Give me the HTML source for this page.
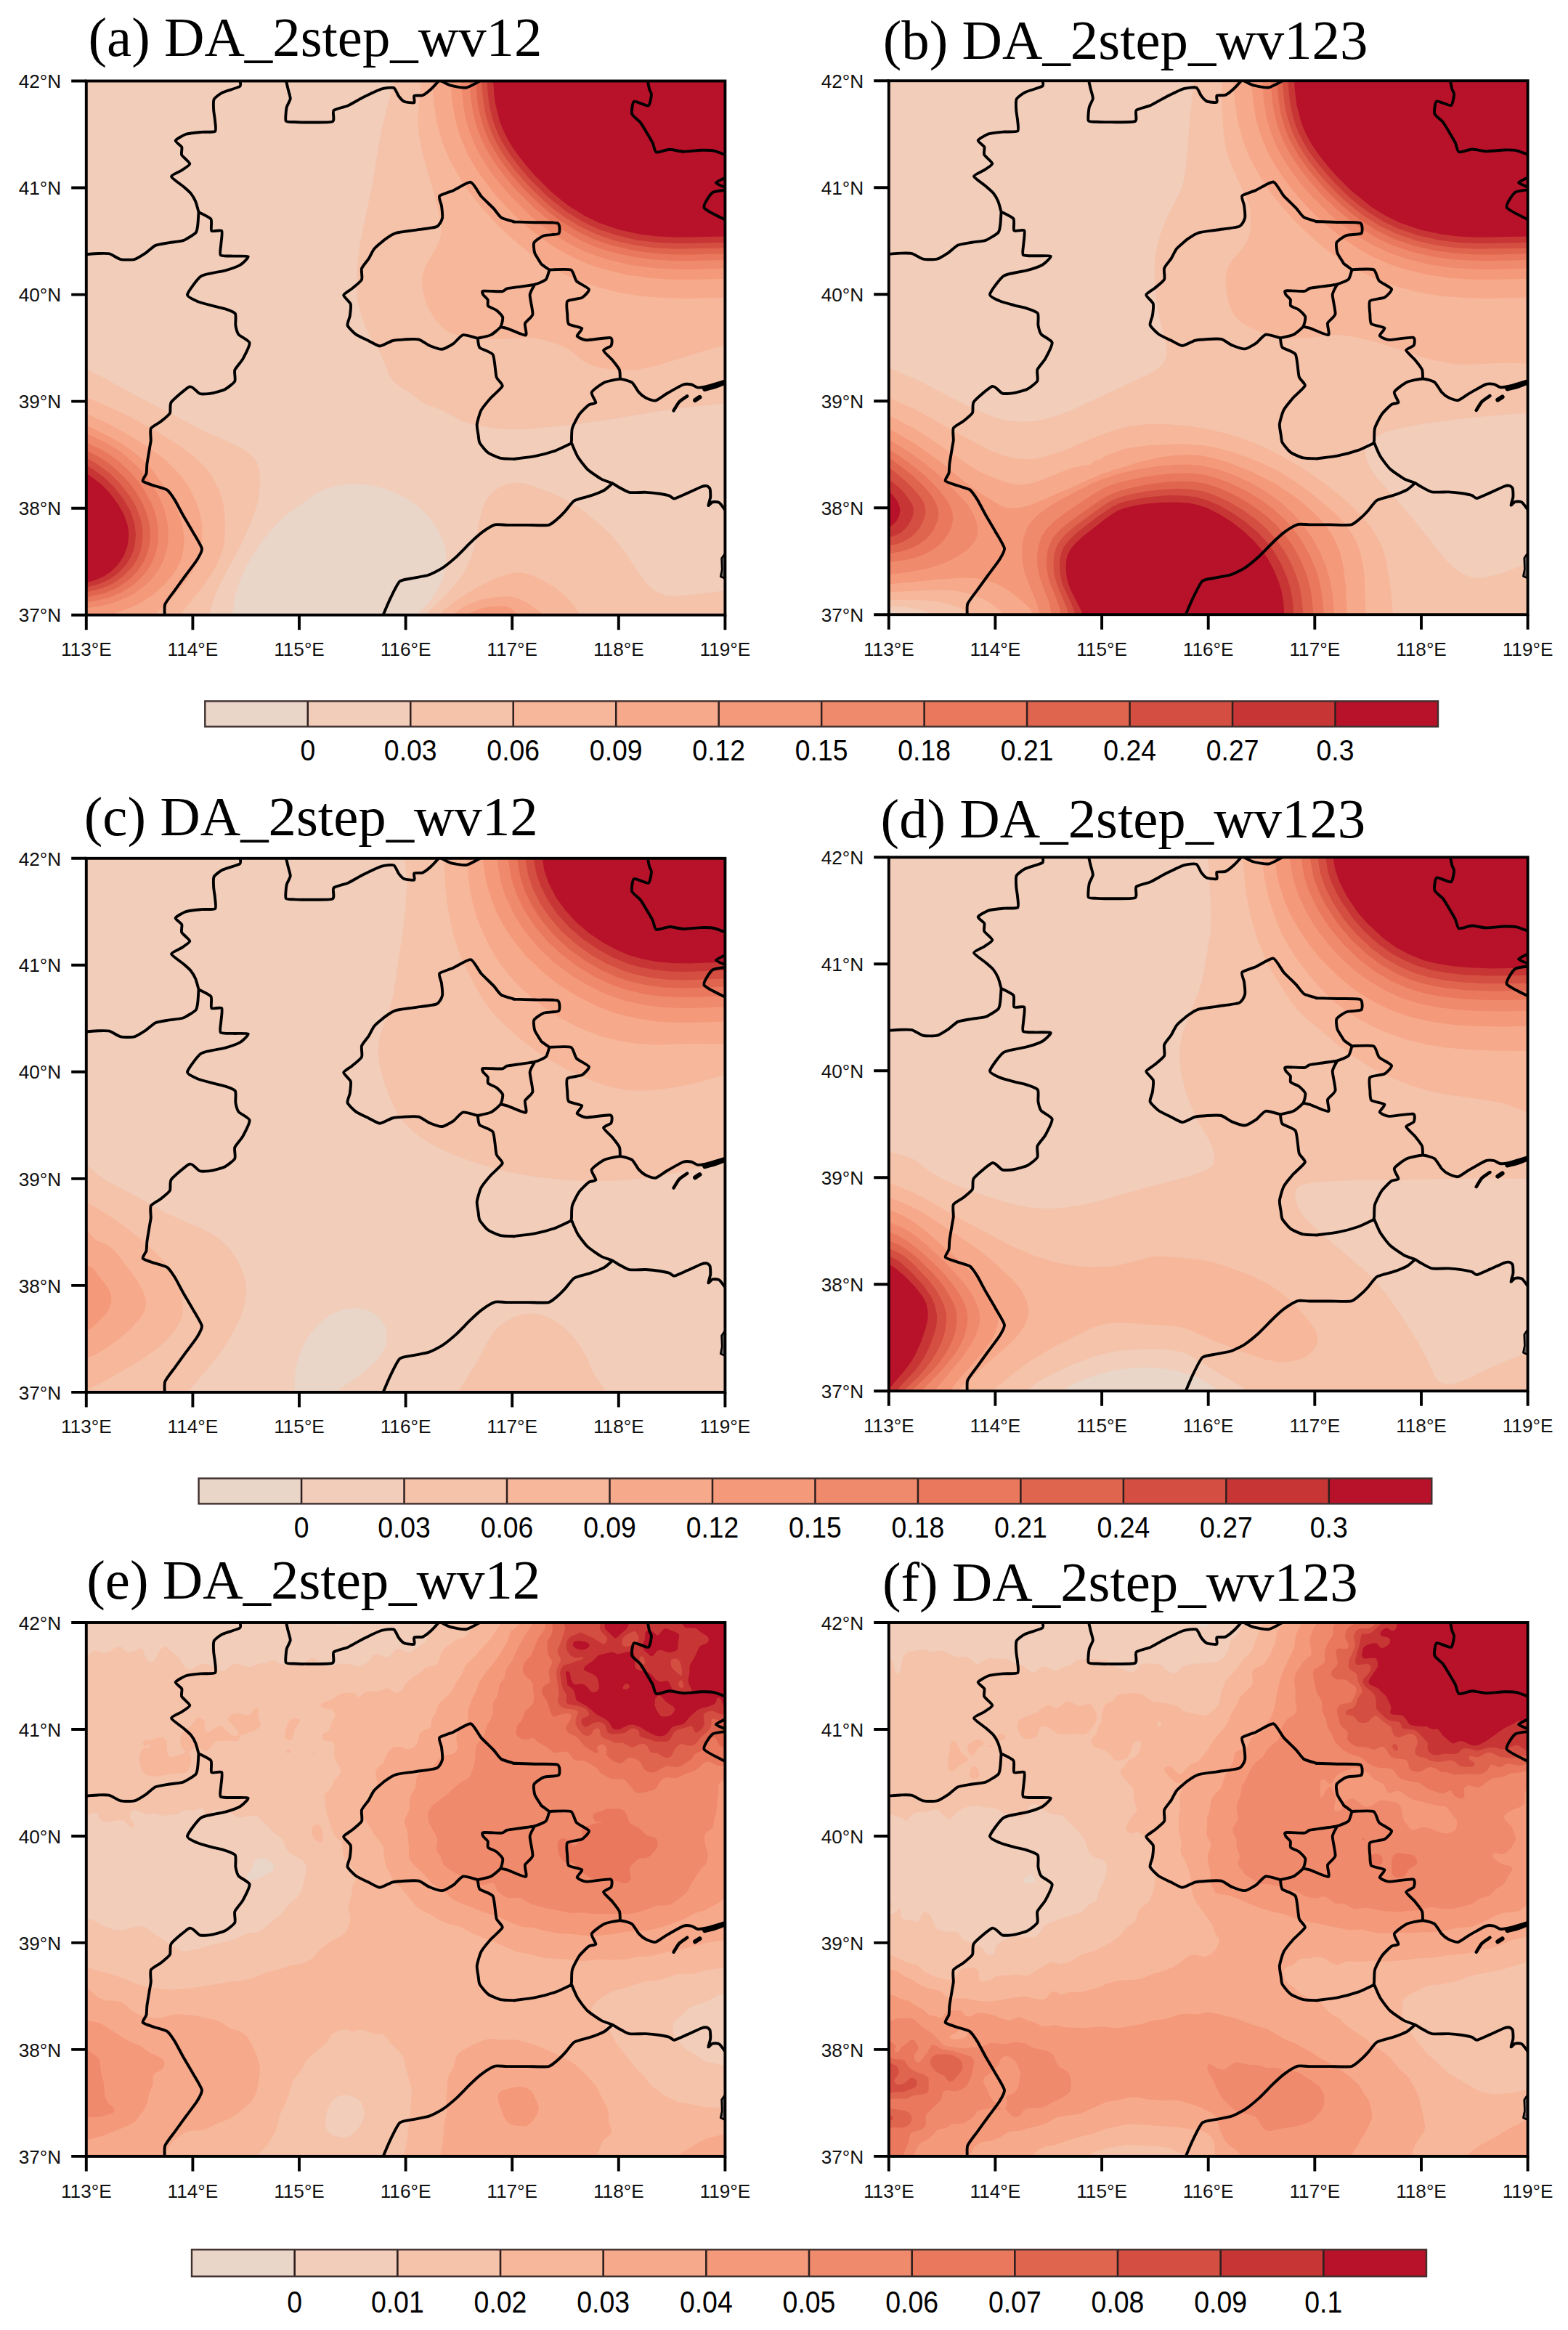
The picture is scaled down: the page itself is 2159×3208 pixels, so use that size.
<!DOCTYPE html>
<html><head><meta charset="utf-8"><title>figure</title>
<style>
html,body{margin:0;padding:0;background:#fff;}
svg{display:block;}
.t{font-family:"Liberation Serif",serif;font-size:76.8px;fill:#000;}
.k{font-family:"Liberation Sans",sans-serif;font-size:26.2px;fill:#111;}
.c{font-family:"Liberation Sans",sans-serif;fill:#000;text-anchor:middle;}
</style></head><body>
<svg width="2159" height="3208" viewBox="0 0 2159 3208">
<defs><g id="bd" fill="none" stroke="#000" stroke-linejoin="round" stroke-linecap="round"><path stroke-width="3.9" d="M211.5 -1.5C211.5 -0.6 213.9 5.8 211.5 7.5C209.1 9.2 191.5 14.0 187.9 15.8C184.3 17.6 177.1 22.8 175.9 25.3C174.7 27.8 175.3 37.6 175.5 40.6C175.7 43.6 177.2 52.1 177.4 55C177.6 57.9 179.3 67.8 177.4 69.3C175.5 70.8 162.3 69.9 158.3 70.3C154.3 70.7 140.7 72.0 137.2 73.2C133.7 74.4 123.5 80.3 122.9 82.1C122.3 83.9 130.6 88.9 131.5 90.9C132.4 92.9 130.4 99.6 131.5 101.9C132.6 104.2 142.6 111.8 142.6 113.9C142.6 116.0 134.0 121.1 131.5 122.9C129.0 124.7 117.0 129.3 117.2 131.5C117.4 133.7 130.7 142.6 133.4 144.9C136.1 147.2 142.2 152.4 143.9 154.5C145.6 156.6 149.5 163.3 150.6 165.9C151.7 168.5 154.4 178.9 154.8 180.3 M154.8 180.3C154.7 182.1 153.9 195.6 153.5 198.5C153.1 201.4 152.6 206.9 150.6 209C148.6 211.1 137.0 218.2 133.4 219.5C129.8 220.8 118.1 221.7 114.3 222.4C110.5 223.1 98.5 224.8 95.2 226.2C92.0 227.6 84.7 234.8 81.8 236.7C78.9 238.6 70.0 244.4 66.5 245.3C63.0 246.2 50.8 246.1 47.3 245.3C43.8 244.5 35.1 238.5 32 237.7C28.9 236.9 20.1 237.2 16.7 237.3C13.3 237.4 -0.5 238.5 -2.4 238.6 M154.8 180.3C156.5 181.3 169.9 187.3 171.7 189.9C173.5 192.5 171.1 204.5 172.6 206.1C174.1 207.7 185.3 204.2 186.6 206.1C187.9 208.0 185.7 222.0 185.5 225.3C185.3 228.7 183.4 238.0 185.1 239.6C186.8 241.2 198.5 240.7 202.3 240.9C206.1 241.1 222.0 240.3 223 241.5C224.0 242.7 215.1 251.2 211.9 253.1C208.7 255.0 196.2 259.3 190.8 260.8C185.4 262.3 163.5 265.1 158.3 268.4C153.1 271.7 139.8 290.4 139.2 293.9C138.6 297.3 149.3 301.4 152.6 302.9C155.8 304.4 167.9 307.6 171.7 308.6C175.5 309.7 187.5 312.2 190.8 313.4C194.2 314.5 203.7 317.8 205.2 320.1C206.7 322.4 205.2 333.4 205.7 336.3C206.2 339.2 208.0 346.4 209.9 348.8C211.8 351.2 224.3 356.9 224.9 360.2C225.5 363.5 217.7 378.5 215.7 382.2C213.7 385.9 205.7 394.5 204.6 397.6C203.5 400.7 206.0 410.2 204.6 412.9C203.2 415.6 194.1 422.6 190.8 424.3C187.5 426.0 175.1 429.1 171.7 429.7C168.3 430.3 159.3 431.0 156.4 430.1C153.5 429.2 146.5 419.4 142.6 420.5C138.7 421.6 119.9 438.0 117.2 441.6C114.5 445.2 116.6 454.2 115.2 456.9C113.8 459.6 105.4 466.2 102.8 468.3C100.2 470.4 90.4 475.3 89 477.9C87.6 480.5 89.2 491.9 89 494.5C88.8 497.1 88.0 500.4 87.5 503.6C87.0 506.8 84.2 523.0 83.7 526.6C83.2 530.2 83.3 537.6 82.7 540C82.1 542.4 76.7 548.8 77.9 550.5C79.2 552.2 91.9 556.0 95.2 557.2C98.5 558.4 108.7 560.7 111.4 562.6C114.1 564.5 119.7 572.8 121.9 576.3C124.1 579.8 130.9 593.0 133.4 597.4C135.9 601.8 144.2 615.7 146.8 620.3C149.4 624.9 158.6 639.5 159.2 643.3C159.8 647.1 154.8 655.0 152.6 658.6C150.4 662.2 140.3 675.4 137.2 679.6C134.1 683.8 124.8 696.7 121.9 700.7C119.0 704.7 109.9 716.0 108.5 719.8C107.1 723.6 108.2 737.0 108.2 738.9 M275 -1.5C275.3 -0.2 277.3 8.4 277.9 11C278.5 13.6 281.3 21.8 281.1 24.4C280.9 27.0 276.5 33.7 275.9 36.8C275.3 39.9 273.9 53.0 275 55C276.1 57.0 284.1 56.3 286.5 56.5C288.9 56.7 294.3 57.0 299.5 56.9C304.7 56.8 334.8 57.5 338.9 55.9C343.0 54.3 338.7 42.8 340.8 40.6C342.9 38.4 356.2 35.7 360.3 33.9C364.4 32.1 376.7 24.8 381.3 22.5C385.9 20.2 402.0 12.3 406.2 11C410.4 9.7 421.0 8.5 423.4 9.4C425.8 10.3 428.7 18.6 430.1 20.5C431.5 22.4 435.6 27.3 437.8 28.2C440.0 29.1 450.3 30.5 451.7 29.7C453.1 28.9 450.5 21.5 451.7 20.5C452.9 19.5 461.3 20.6 463.6 19.6C465.9 18.7 472.8 13.1 475.1 11C477.4 8.9 485.5 -0.2 486.6 -1.5 M486.6 -1.5C488.1 -0.7 498.2 5.1 501.9 6.2C505.6 7.3 519.6 9.9 523.9 9.1C528.2 8.3 542.8 -0.4 544.9 -1.5 M539.2 353.9C537.2 353.4 522.5 348.6 519.1 349.3C515.8 350.0 508.6 359.2 505.7 361.2C502.8 363.2 493.6 368.6 490.4 368.9C487.1 369.2 476.4 365.4 473.2 364.1C469.9 362.8 461.3 356.4 457.9 355.5C454.4 354.6 442.3 355.3 438.7 355.5C435.1 355.7 424.9 356.5 421.5 357.4C418.1 358.3 407.6 364.6 404.3 364.6C401.1 364.6 392.2 359.0 389 357.4C385.8 355.8 374.7 350.9 371.8 348.8C368.9 346.7 360.8 338.9 359.9 336.3C359.0 333.7 362.8 325.9 363.2 322.9C363.6 319.9 365.0 309.5 364.1 306.7C363.2 303.9 354.3 296.7 354.5 294.6C354.7 292.5 363.5 287.7 366 285.6C368.5 283.5 378.1 276.0 379.4 273.2C380.7 270.4 378.4 260.8 379.4 257.9C380.4 255.0 387.3 247.2 389 244.5C390.7 241.8 394.3 233.7 396.6 231C398.9 228.3 408.8 219.8 411.9 217.6C415.0 215.4 423.2 210.2 427.2 209C431.2 207.8 446.6 206.1 452.1 205.2C457.7 204.3 478.9 202.0 482.7 200.4C486.5 198.8 489.7 191.8 490.4 188.9C491.1 186.0 489.8 174.8 489.4 171.7C489.0 168.6 485.0 160.4 486.6 158.3C488.2 156.2 501.4 152.5 505.7 150.6C510.0 148.7 525.8 138.4 529.6 139.2C533.4 140.0 540.7 154.7 543.9 158.3C547.1 161.9 558.4 172.5 561.2 175.5C564.0 178.5 568.9 186.1 571.7 187.9C574.5 189.7 587.8 193.1 589.5 193.7C591.2 194.3 586.3 193.6 589.1 193.7C591.9 193.8 611.8 194.4 617.8 194.6C623.8 194.8 646.0 194.1 649.3 195.6C652.6 197.1 652.6 208.2 650.7 209.9C648.8 211.6 633.6 211.6 630.2 212.8C626.8 214.1 618.0 220.0 616.8 222.4C615.6 224.8 616.9 234.0 617.8 236.7C618.7 239.4 624.4 247.9 625.4 249.5C626.4 251.1 626.0 251.2 627.3 252.2C628.5 253.2 636.8 259.0 637.9 259.8 M637.9 259.8C637.4 261.1 635.1 271.2 633.1 273.2C631.1 275.2 621.2 278.9 617.8 279.9C614.3 280.9 602.4 282.2 598.6 282.8C594.8 283.4 582.1 284.9 579.5 285.6C576.9 286.3 575.9 289.2 572.6 289.5C569.3 289.8 549.4 288.4 546.8 288.9C544.2 289.4 546.2 293.0 546.8 294.2C547.4 295.4 552.4 299.4 553.1 300.9C553.8 302.4 552.3 308.1 553.5 309.5C554.7 310.9 563.0 313.8 565 315.3C567.0 316.8 573.0 322.6 573.6 324.9C574.2 327.2 572.3 335.8 570.7 338.2C569.1 340.6 560.4 347.7 557.3 349.3C554.1 350.9 541.0 353.4 539.2 353.9 M617.8 279.9C617.1 281.3 611.4 290.1 611.1 294.2C610.8 298.3 615.6 317.1 614.9 321C614.2 324.9 605.4 330.6 604.4 333.5C603.4 336.4 607.8 349.0 605.3 349.7C602.8 350.4 583.0 341.3 579.5 340.2C576.0 339.1 571.6 338.4 570.7 338.2 M637.9 259.8C640.9 259.8 663.8 258.3 667.5 259.8C671.2 261.3 672.7 272.4 675.2 275.1C677.7 277.8 691.6 284.3 692.4 286.6C693.2 288.9 685.8 296.5 682.8 298.1C679.8 299.7 664.7 300.6 662.7 302.9C660.7 305.2 662.5 317.9 662.7 321C662.9 324.1 662.6 332.5 664.6 334.4C666.6 336.3 681.6 338.6 682.8 340.2C683.9 341.8 675.5 349.1 676.1 350.7C676.7 352.3 683.9 356.1 688.5 356.4C693.1 356.6 718.5 352.4 722 353.2C725.5 354.0 724.0 362.3 723 364.1C722.0 365.9 712.3 368.8 712.5 370.8C712.7 372.8 722.7 381.5 724.9 384.2C727.1 386.9 733.5 395.0 734.5 397.6C735.5 400.2 735.3 408.8 735.4 410 M539.2 353.9C539.5 355.2 539.9 364.6 542 366.9C544.1 369.2 557.9 372.5 560.2 376.5C562.5 380.5 563.7 402.8 565 407.1C566.3 411.4 574.0 416.7 573.2 419.6C572.4 422.5 560.2 432.5 557.3 435.8C554.4 439.1 545.8 449.4 543.9 453C542.0 456.6 538.6 468.8 538.2 472.2C537.8 475.6 539.7 484.9 540.1 487.5C540.5 490.1 540.7 495.5 542 497.9C543.3 500.3 550.6 509.2 553.5 511.3C556.4 513.4 567.1 518.0 570.7 518.9C574.3 519.8 587.7 519.8 589.5 519.9C591.3 520.0 586.3 520.3 589.1 519.9C591.9 519.5 612.1 517.2 617.8 516.1C623.5 515.0 641.4 510.2 646.5 508.4C651.6 506.6 666.3 499.3 668.5 498.3 M885.6 410.9C882.4 411.9 857.5 419.4 853.1 420.5C848.7 421.6 843.5 421.8 841.6 421.5C839.7 421.2 835.8 418.0 833.9 417.6C832.0 417.2 825.9 416.4 822.5 417.6C819.1 418.9 803.3 427.9 799.5 430.1C795.7 432.3 787.1 439.0 784.2 439.6C781.3 440.2 773.1 436.9 770.8 435.8C768.5 434.7 763.1 430.3 761.2 428.2C759.3 426.1 754.3 416.6 751.7 414.8C749.1 413.0 739.2 410.0 735.4 410C731.6 410.0 717.3 413.0 713.4 414.8C709.5 416.6 697.4 425.4 696.2 428.2C695.1 431.0 702.3 440.8 701.9 442.5C701.5 444.2 694.7 443.8 692.4 445.4C690.1 447.0 681.3 455.6 679 458.8C676.7 462.1 670.4 474.3 669.4 477.9C668.4 481.5 668.6 492.5 668.5 494.5C668.4 496.5 667.6 495.6 668.5 497.9C669.4 500.1 674.9 513.4 677.1 517C679.3 520.6 687.2 531.1 690.5 534.2C693.8 537.3 706.2 545.7 709.6 547.6C713.0 549.5 722.6 552.3 724.9 553.4C727.2 554.5 730.3 557.0 732.6 558.2C734.9 559.4 744.1 565.0 747.9 565.8C751.7 566.6 766.6 565.6 770.8 565.8C775.0 566.0 786.6 567.2 789.9 567.7C793.1 568.2 801.3 569.9 803.3 570.6C805.3 571.3 807.5 574.8 810 574.4C812.5 574.0 824.5 568.4 828.2 566.8C831.9 565.2 844.6 559.2 847.3 558.2C850.0 557.2 853.8 556.9 855 557.2C856.2 557.5 858.7 559.5 859.2 561C859.7 562.5 860.0 570.2 859.8 572.5C859.6 574.8 856.6 583.3 856.9 584C857.2 584.7 861.1 579.6 862.6 579.2C864.1 578.8 870.1 578.6 872.2 580.2C874.3 581.8 882.6 594.0 883.7 595.5 M724.9 553.4C723.8 554.4 716.5 561.2 713.4 562.9C710.3 564.6 698.4 569.2 694.3 570.6C690.2 572.0 675.7 575.2 672.3 577.3C668.9 579.4 662.1 589.2 659.9 591.6C657.7 594.0 652.6 599.3 650.3 601.2C648.0 603.1 641.1 609.8 636.9 610.8C632.7 611.8 613.9 610.8 608.2 610.8C602.5 610.8 584.0 610.8 579.5 610.8C575.0 610.8 566.5 609.4 563.1 610.4C559.7 611.4 549.4 617.8 545.9 620.3C542.4 622.8 532.2 632.1 528.6 635.6C525.0 639.1 513.3 651.3 509.5 654.8C505.7 658.2 494.2 667.6 490.4 670.1C486.6 672.6 475.0 678.3 471.2 679.6C467.4 680.9 456.0 682.6 452.1 683.5C448.2 684.4 435.2 685.5 432 688.2C428.8 690.9 422.1 705.2 419.6 710.3C417.1 715.4 408.4 736.0 407.2 738.9 M773.1 -1.5C773.4 -0.2 775.1 9.0 775.6 11C776.1 13.0 778.6 16.3 778.5 18.6C778.4 20.9 776.7 32.9 774.3 33.9C771.9 34.9 756.9 27.1 754.6 28.2C752.3 29.3 750.8 42.5 751.7 45.4C752.6 48.3 761.1 54.2 763.2 56.9C765.3 59.6 771.0 69.3 772.7 72.2C774.4 75.1 779.1 83.0 780.4 85.6C781.6 88.2 782.9 97.1 785.2 98C787.5 98.9 799.6 94.3 803.3 94.2C807.0 94.1 818.1 97.0 822.5 97.1C826.9 97.2 843.1 95.3 847.3 95.2C851.5 95.1 861.0 95.3 864.6 96.1C868.2 96.9 881.8 102.1 883.7 102.8 M883.7 131.5C882.1 132.4 867.4 138.5 867.4 140.1C867.4 141.7 882.1 147.0 883.7 147.8 M883.7 149.7C881.6 150.1 865.9 151.0 862.6 153.5C859.4 156.0 849.1 170.7 851.2 174.6C853.3 178.5 880.5 190.9 883.7 192.7"/><path stroke-width="7" d="M852.1 423.4C853.5 423.0 863.3 420.7 866.5 419.6C869.7 418.6 882.0 413.6 883.7 412.9"/><path stroke-width="4.5" d="M809.1 453.4C809.9 452.2 814.8 443.6 816.7 441.6C818.6 439.6 826.7 434.3 827.8 433.5"/><path stroke-width="6" d="M838.7 439.1 L845 434.9"/><path stroke-width="2.5" fill="#6b625e" d="M883.7 644.2 L875.1 656.7 L875.7 672 L873.7 681.6 L883.7 686.3Z"/></g>
<clipPath id="cpa"><rect x="0" y="0" width="879.6" height="735.2"/></clipPath>
<clipPath id="cpb"><rect x="0" y="0" width="879.8" height="735.0"/></clipPath>
<clipPath id="cpc"><rect x="0" y="0" width="879.6" height="735.1"/></clipPath>
<clipPath id="cpd"><rect x="0" y="0" width="879.8" height="734.9"/></clipPath>
<clipPath id="cpe"><rect x="0" y="0" width="879.6" height="734.9"/></clipPath>
<clipPath id="cpf"><rect x="0" y="0" width="879.8" height="734.9"/></clipPath>
</defs>
<rect width="2159" height="3208" fill="#fff"/>
<g transform="translate(118.8 111.5)">
<g clip-path="url(#cpa)">
<rect width="879.6" height="735.2" fill="#f1cdba"/>
<rect width="879.6" height="735.2" fill="#ead5c9"/>
<path fill="#f1cdba" fill-rule="evenodd" d="M-24.0,-24.0 904.0,-24.0 904.0,760.0 443.4,760.0 458.8,732.1 461.8,728.1 469.8,720.1 479.2,708.1 485.1,698.2 489.6,688.2 493.9,674.2 495.8,660.3 495.1,646.3 491.9,634.3 484.4,618.4 472.9,602.1 461.0,589.6 445.0,577.2 429.0,568.2 409.1,560.5 391.1,556.4 371.1,554.7 357.2,555.5 343.2,557.8 327.2,562.6 317.3,567.0 275.4,597.6 263.4,608.7 251.4,622.0 239.4,637.6 227.5,656.0 217.4,674.2 211.3,688.2 207.3,700.2 203.9,714.1 198.9,760.0 -24.0,760.0Z"/>
<path fill="#f5c2aa" fill-rule="evenodd" d="M424.3,-24.0 904.0,-24.0 904.0,441.2 836.1,448.2 804.2,452.3 708.4,467.9 664.5,473.8 608.6,479.2 590.7,479.8 576.7,479.4 558.7,477.5 541.6,474.7 528.8,471.9 518.8,468.6 510.8,464.8 492.9,454.8 464.9,443.5 457.0,438.3 443.0,427.4 429.0,419.0 425.0,415.7 421.0,410.9 417.0,404.4 404.9,375.0 389.4,349.0 383.8,337.1 378.3,321.1 374.0,305.2 372.6,295.2 372.1,281.2 373.6,249.3 376.6,225.4 395.1,135.9 401.9,91.7 406.5,67.8 425.5,-8.0 426.0,-14.0ZM-24.0,385.0 -24.0,383.1 -22.0,383.8 -14.0,389.0 21.9,407.5 67.5,432.8 159.6,480.4 211.5,504.3 219.5,509.3 226.1,514.6 231.7,520.6 235.5,526.6 238.4,536.6 239.0,554.5 237.6,572.5 233.8,588.4 226.2,608.4 212.2,640.3 189.5,682.2 180.0,702.1 171.3,726.1 167.7,746.0 161.6,760.0 -24.0,760.0ZM581.9,554.5 594.7,553.2 602.6,553.8 629.0,562.5 643.6,568.5 658.5,575.8 673.5,584.4 685.4,592.4 707.1,610.4 724.4,627.3 742.3,649.6 762.3,680.1 769.8,690.2 778.3,698.9 788.2,705.1 800.2,708.8 812.2,709.6 874.1,702.4 904.0,699.9 904.0,760.0 458.3,760.0 464.6,740.1 467.7,734.1 488.5,714.1 505.7,696.2 516.5,682.2 523.7,670.2 529.1,658.3 533.2,646.3 536.2,634.3 539.7,612.4 543.4,596.4 547.2,584.4 551.1,576.5 557.2,568.5 564.2,562.5 571.2,558.5Z"/>
<path fill="#f7b79b" fill-rule="evenodd" d="M460.5,-24.0 904.0,-24.0 904.0,356.5 856.1,370.0 784.3,392.3 758.3,397.5 738.4,398.5 712.4,395.8 696.4,391.8 684.5,385.5 668.5,372.4 660.5,367.5 645.4,361.0 628.6,356.0 618.6,354.0 608.6,353.0 566.7,355.5 550.8,355.3 536.8,354.2 518.8,351.6 506.9,348.7 498.9,345.5 490.9,340.0 480.8,329.1 471.1,313.1 465.8,299.2 462.8,283.2 462.6,271.2 464.5,261.3 468.9,251.4 481.1,231.3 485.1,223.4 487.6,215.4 488.6,205.4 487.7,193.4 484.7,177.5 478.5,153.5 464.5,105.7 460.5,87.7 457.9,71.8 457.0,59.8 457.2,45.8 461.9,-6.0 461.7,-16.0ZM-24.0,424.9 -24.0,424.3 -22.0,424.9 -10.8,430.8 33.9,450.1 61.8,463.2 97.7,483.0 125.7,500.4 147.6,516.6 162.5,530.6 168.9,538.6 174.2,546.5 183.2,564.5 188.6,582.5 190.9,602.4 190.5,632.3 189.1,640.3 186.1,650.3 179.4,666.2 169.6,682.9 157.6,699.5 133.0,730.1 113.1,760.0 -24.0,760.0ZM583.9,678.2 590.7,677.0 598.7,676.8 610.6,679.4 628.6,687.4 646.6,698.6 660.3,710.1 671.3,722.1 678.4,732.1 686.5,748.0 694.8,758.0 695.8,760.0 473.7,760.0 479.8,744.0 483.4,738.1 492.9,728.1 506.9,717.2 524.8,705.2 546.8,693.1 568.7,683.1Z"/>
<path fill="#f7a98b" fill-rule="evenodd" d="M476.2,-24.0 904.0,-24.0 904.0,297.5 832.2,299.5 802.2,299.1 766.3,296.5 734.4,291.4 700.4,282.7 686.5,278.0 668.5,270.8 654.5,264.2 638.6,255.5 624.6,246.7 610.6,236.9 594.7,224.3 578.7,210.3 562.7,194.5 547.2,177.5 534.0,161.5 522.2,145.6 511.8,129.6 502.9,113.6 496.9,100.9 490.9,85.7 485.9,69.8 481.7,51.8 478.9,33.2 477.0,11.9ZM-24.0,448.8 -24.0,447.2 -22.0,447.7 25.9,469.8 43.9,479.1 59.8,488.2 81.8,502.0 97.0,512.6 109.8,522.6 125.7,538.6 135.3,550.5 142.2,560.5 151.0,578.5 155.1,590.4 157.6,600.4 159.5,612.4 159.9,624.3 159.3,634.3 157.1,648.3 154.3,658.3 151.0,666.2 144.5,678.2 137.7,688.2 119.7,709.6 85.8,743.9 75.8,749.0 44.4,758.0 40.6,760.0 14.0,760.0 10.5,758.0 3.9,756.0 -8.0,753.5 -14.0,753.5 -24.0,755.1ZM569.8,710.1 580.7,709.4 590.7,711.0 598.8,714.1 609.4,720.1 623.8,730.1 633.2,738.1 643.4,750.0 648.8,758.0 649.5,760.0 488.8,760.0 491.8,750.0 497.0,742.0 505.0,734.1 518.8,724.6 528.8,719.4 542.8,714.2 554.8,711.8Z"/>
<path fill="#f49a7b" fill-rule="evenodd" d="M501.2,-24.0 904.0,-24.0 904.0,271.7 836.1,273.6 808.2,273.4 776.3,271.5 742.3,266.5 710.4,258.6 696.4,254.1 680.5,247.8 654.5,234.7 640.6,226.1 626.6,216.3 610.6,203.8 596.7,191.5 580.7,175.8 567.5,161.5 555.9,147.6 543.9,131.6 533.4,115.6 525.6,101.7 515.2,77.7 510.7,63.8 506.9,47.8 504.3,31.9 501.8,5.9ZM-24.0,464.8 -24.0,463.7 -22.0,464.2 -16.0,466.8 19.9,483.5 35.9,491.8 49.8,500.1 61.8,508.2 79.4,522.6 86.9,530.6 96.2,542.6 117.6,574.5 122.8,584.4 126.9,594.4 130.9,606.4 133.6,618.4 134.6,628.3 134.5,638.3 133.3,648.3 131.4,656.3 127.7,665.4 123.7,672.7 117.3,682.2 109.7,691.2 93.7,706.0 75.8,717.9 61.8,724.8 39.9,732.9 23.9,739.9 19.9,740.0 7.9,737.5 -2.0,736.5 -12.0,736.9 -24.0,739.1ZM554.8,724.1 574.7,723.0 580.7,724.0 584.7,726.0 588.7,729.2 593.1,734.1 602.6,748.7 609.9,758.0 610.7,760.0 507.9,760.0 509.6,756.0 519.0,742.0 526.7,734.1 533.4,730.1 540.8,726.9Z"/>
<path fill="#f08a6c" fill-rule="evenodd" d="M515.7,-24.0 904.0,-24.0 904.0,257.4 832.2,259.4 812.2,259.3 780.3,257.5 748.3,253.2 716.4,245.5 688.5,235.7 672.5,228.2 660.5,221.7 638.6,207.3 620.6,193.5 608.6,183.1 582.7,157.1 560.0,129.6 550.3,115.6 539.7,97.7 533.9,85.7 528.3,71.8 523.9,57.8 520.7,43.8 518.3,27.9 516.7,9.9ZM-24.0,478.7 -24.0,477.8 -22.0,478.2 -2.0,485.1 12.2,490.7 27.9,498.5 41.4,506.6 52.4,514.6 70.3,530.6 77.8,538.8 88.3,552.5 97.1,566.5 103.1,578.5 107.0,588.4 110.4,600.4 112.5,612.4 113.2,624.3 112.5,636.3 110.6,646.3 107.7,656.3 103.4,666.2 98.8,674.2 91.8,683.6 83.5,692.2 75.8,698.8 65.8,705.7 55.8,711.3 35.9,719.1 19.9,723.1 -24.0,728.7ZM553.7,740.1 564.7,739.7 572.7,742.4 576.7,745.4 580.6,750.0 585.2,758.0 585.7,760.0 531.6,760.0 535.4,752.0 540.6,746.0 546.8,742.1Z"/>
<path fill="#e9785d" fill-rule="evenodd" d="M527.4,-24.0 904.0,-24.0 904.0,245.9 836.1,247.6 808.2,247.5 778.3,245.6 754.3,242.4 726.4,236.2 710.4,231.4 696.4,226.4 682.5,220.2 670.5,214.0 646.6,198.7 630.6,186.6 616.6,174.6 591.6,149.6 579.5,135.6 568.7,121.6 559.1,107.7 549.7,91.7 543.9,79.7 539.3,67.8 535.0,53.8 532.2,41.8 529.6,23.9 528.1,5.9ZM-24.0,490.7 -24.0,489.9 -22.0,490.2 -0.1,497.8 19.9,507.1 33.9,515.7 43.9,523.1 60.5,538.6 69.3,548.5 78.1,560.5 89.3,580.5 93.3,590.4 96.7,602.4 98.5,612.4 99.2,624.3 98.7,634.3 97.0,644.3 94.0,654.3 89.7,664.2 85.0,672.2 78.9,680.2 71.8,687.5 64.1,694.2 47.8,704.5 29.9,711.8 9.9,716.4 -24.0,721.1Z"/>
<path fill="#e0654f" fill-rule="evenodd" d="M536.2,-24.0 904.0,-24.0 904.0,237.2 834.2,239.0 810.2,238.9 780.3,237.1 754.3,233.6 724.4,226.6 698.4,217.7 674.5,206.2 652.5,192.3 638.6,181.9 624.6,170.1 611.3,157.5 598.7,144.4 585.9,129.6 575.1,115.6 566.9,103.7 558.5,89.7 552.5,77.7 548.5,67.8 544.0,53.8 541.1,41.8 538.8,27.9 537.1,9.9ZM-24.0,500.7 -22.0,500.5 -4.0,507.0 15.9,516.8 25.9,523.0 36.2,530.6 53.2,546.5 61.6,556.5 68.8,566.5 78.9,584.4 82.9,594.4 85.8,604.4 87.6,614.4 88.1,624.3 87.8,632.3 86.2,642.3 83.4,652.3 80.1,660.3 71.0,674.2 63.8,682.0 56.9,688.2 41.9,698.2 25.9,705.0 5.9,709.8 -24.0,714.0Z"/>
<path fill="#d44e41" fill-rule="evenodd" d="M543.8,-24.0 904.0,-24.0 904.0,229.7 812.2,231.3 782.3,229.7 756.3,226.2 728.4,219.9 702.4,211.1 678.5,199.7 656.5,185.9 642.7,175.5 630.6,165.3 618.0,153.5 604.6,139.6 592.4,125.6 581.6,111.7 573.3,99.7 565.0,85.7 559.1,73.8 554.8,62.8 550.8,49.8 548.1,37.8 544.6,7.9ZM-24.0,510.6 -24.0,510.1 -22.0,510.4 -8.0,515.5 3.9,521.1 13.9,526.8 31.9,539.8 45.8,553.4 59.3,570.5 64.3,578.5 69.8,589.0 75.8,606.4 77.2,614.4 77.9,624.3 76.3,640.3 74.3,648.3 71.2,656.3 66.7,664.2 62.4,670.2 49.8,682.9 36.2,692.2 21.9,698.5 3.9,703.1 -24.0,707.2Z"/>
<path fill="#c73635" fill-rule="evenodd" d="M551.5,-24.0 904.0,-24.0 904.0,222.1 814.2,223.8 784.3,222.2 758.3,218.9 730.4,212.6 704.4,203.8 682.5,193.2 660.7,179.5 634.6,158.8 610.6,134.9 598.7,121.2 586.7,105.8 578.7,94.1 571.5,81.7 566.5,71.8 561.8,59.8 558.1,47.8 555.4,35.8 553.6,23.9 552.0,5.9ZM-24.0,520.6 -24.0,519.4 -22.0,519.7 -14.0,522.4 -2.0,528.1 9.3,534.6 25.5,546.5 39.5,560.5 51.8,576.5 60.9,592.4 66.4,608.4 68.3,624.3 66.7,640.3 62.0,654.3 54.6,666.2 43.1,678.2 31.9,686.2 17.9,692.6 -3.9,698.2 -24.0,700.9Z"/>
<path fill="#b8122a" fill-rule="evenodd" d="M560.2,-24.0 904.0,-24.0 904.0,213.7 814.2,215.3 784.3,213.7 762.3,211.0 734.4,205.0 706.4,195.6 686.5,185.8 666.7,173.5 655.9,165.5 638.6,151.1 616.6,129.0 605.0,115.6 594.7,102.3 585.9,89.7 578.8,77.7 574.0,67.8 569.4,55.8 563.8,33.9 562.0,21.9 560.5,3.9 559.8,-12.0ZM-24.0,530.6 -24.0,529.4 -22.0,529.7 -14.2,532.6 3.9,542.6 19.8,554.5 31.9,566.8 43.7,582.5 51.8,596.8 56.6,610.4 58.0,618.4 58.4,626.3 56.8,640.3 51.8,653.8 43.9,665.7 33.9,675.6 23.9,682.3 9.9,688.1 -8.0,692.6 -24.0,694.4Z"/>
<use href="#bd" transform="scale(0.99955 1.00095)"/>
</g>
<rect x="0" y="0" width="879.6" height="735.2" fill="none" stroke="#000" stroke-width="3.9"/>
<path d="M0.0 735.2 V755.8000000000001 M146.6 735.2 V755.8000000000001 M293.2 735.2 V755.8000000000001 M439.8 735.2 V755.8000000000001 M586.4 735.2 V755.8000000000001 M733.0 735.2 V755.8000000000001 M879.6 735.2 V755.8000000000001 M0 0.0 H-20.6 M0 147.0 H-20.6 M0 294.1 H-20.6 M0 441.1 H-20.6 M0 588.2 H-20.6 M0 735.2 H-20.6" stroke="#000" stroke-width="3.9" fill="none"/>
<text class="k" x="0.0" y="791.8" text-anchor="middle">113°E</text>
<text class="k" x="146.6" y="791.8" text-anchor="middle">114°E</text>
<text class="k" x="293.2" y="791.8" text-anchor="middle">115°E</text>
<text class="k" x="439.8" y="791.8" text-anchor="middle">116°E</text>
<text class="k" x="586.4" y="791.8" text-anchor="middle">117°E</text>
<text class="k" x="733.0" y="791.8" text-anchor="middle">118°E</text>
<text class="k" x="879.6" y="791.8" text-anchor="middle">119°E</text>
<text class="k" x="-34.6" y="9.7" text-anchor="end">42°N</text>
<text class="k" x="-34.6" y="156.7" text-anchor="end">41°N</text>
<text class="k" x="-34.6" y="303.8" text-anchor="end">40°N</text>
<text class="k" x="-34.6" y="450.8" text-anchor="end">39°N</text>
<text class="k" x="-34.6" y="597.9" text-anchor="end">38°N</text>
<text class="k" x="-34.6" y="744.9" text-anchor="end">37°N</text>
</g>
<text class="t" x="121.5" y="76.8">(a) DA_2step_wv12</text>
<g transform="translate(1223.8 111.2)">
<g clip-path="url(#cpb)">
<rect width="879.8" height="735.0" fill="#f1cdba"/>
<rect width="879.8" height="735.0" fill="#ead5c9"/>
<path fill="#f1cdba" fill-rule="evenodd" d="M-24.0,-24.0 904.0,-24.0 904.0,756.0 35.6,756.0 35.0,754.0 24.4,740.0 20.1,736.1 16.8,734.1 10.2,732.1 -2.0,730.1 -24.0,729.1Z"/>
<path fill="#f5c2aa" fill-rule="evenodd" d="M419.3,-24.0 904.0,-24.0 904.0,455.4 826.2,461.5 784.3,465.8 734.4,472.6 704.4,478.3 684.5,483.6 669.2,490.7 663.5,494.7 659.5,498.7 656.9,502.6 655.5,508.6 657.2,518.6 659.9,526.6 665.1,536.6 672.0,546.5 721.2,602.4 766.3,659.1 777.6,670.2 788.2,677.7 797.9,682.2 806.1,684.2 814.2,684.6 824.2,683.4 846.1,677.5 882.0,663.7 904.0,656.5 904.0,756.0 78.4,756.0 77.7,754.0 72.1,746.0 65.0,738.0 59.6,734.1 49.8,729.8 41.9,727.8 19.9,724.4 -24.0,722.5 -24.0,385.1 39.9,412.2 105.7,446.4 125.7,455.4 145.6,463.3 155.6,466.4 169.6,468.8 183.6,469.5 199.5,468.7 215.5,465.9 232.8,460.8 253.4,452.8 360.4,402.9 372.7,394.9 379.4,386.9 382.4,379.0 382.9,369.0 381.1,359.2 373.1,329.1 368.5,303.2 365.6,271.2 366.3,247.3 369.5,227.4 375.2,207.4 384.4,185.5 400.9,153.5 404.5,143.6 406.9,133.6 409.7,113.6 414.6,49.8 421.2,-8.0 421.2,-14.0Z"/>
<path fill="#f7b79b" fill-rule="evenodd" d="M457.6,-24.0 904.0,-24.0 904.0,390.5 852.1,388.4 796.2,390.5 784.3,390.3 772.3,389.1 743.1,383.0 670.5,359.5 650.5,354.5 634.6,351.5 622.6,350.1 610.6,349.9 578.7,353.7 558.7,354.9 546.8,354.5 534.8,352.8 520.8,349.2 504.6,343.1 492.5,337.1 482.9,330.2 478.0,325.1 473.7,319.1 470.7,313.1 467.8,305.2 464.4,287.2 463.8,277.2 464.2,269.2 466.4,259.3 470.2,251.3 474.9,244.7 488.3,229.4 494.9,217.7 498.5,205.4 498.9,189.5 497.5,177.5 494.8,167.5 472.5,117.6 466.7,101.7 463.6,89.7 461.3,73.7 459.8,55.8 458.7,23.9 458.7,-14.0ZM-24.0,426.8 -24.0,426.1 -22.0,426.6 37.9,453.3 89.8,482.9 137.7,508.4 157.6,516.1 175.6,520.2 185.5,521.1 195.5,521.0 205.5,519.7 215.5,517.5 243.4,508.3 281.3,491.8 313.3,480.0 333.2,475.2 357.2,472.8 381.1,472.8 407.1,474.9 421.0,476.6 445.0,481.0 463.0,485.3 482.9,491.3 500.9,497.9 518.8,505.6 542.8,517.7 560.7,528.0 582.7,542.1 604.6,557.9 624.6,574.2 638.0,586.4 653.6,602.4 664.8,616.4 672.3,628.3 678.3,640.3 682.0,650.3 685.0,662.2 690.9,698.1 694.0,732.1 695.3,756.0 128.9,756.0 127.1,752.0 120.0,742.0 114.4,736.1 109.7,732.2 97.7,725.5 81.8,720.1 61.8,716.4 41.9,714.7 -24.0,714.8Z"/>
<path fill="#f7a98b" fill-rule="evenodd" d="M474.2,-24.0 904.0,-24.0 904.0,297.7 830.2,299.8 800.2,299.4 764.3,296.7 732.4,291.7 700.4,283.6 684.5,278.3 668.5,271.9 652.5,264.4 638.6,256.8 624.6,248.2 608.6,237.0 590.7,222.8 575.6,209.4 560.7,194.7 544.8,177.3 532.8,162.7 520.8,146.5 510.8,131.3 500.9,113.6 494.9,101.0 488.9,85.9 484.9,73.4 480.5,55.8 476.9,32.7 475.0,11.9ZM-24.0,450.8 -24.0,449.2 -22.0,449.7 9.9,465.5 37.9,480.5 55.8,492.0 112.1,530.6 123.7,537.5 133.7,542.2 157.6,551.6 173.6,555.8 183.6,556.1 197.5,553.7 211.5,549.3 237.4,538.6 253.4,532.9 261.4,531.4 269.4,528.8 273.4,529.2 277.4,528.6 283.3,523.4 291.3,521.1 297.9,516.6 315.3,509.7 329.2,505.8 359.2,501.9 403.1,500.1 419.0,500.7 437.0,502.6 451.0,505.3 472.9,511.0 510.8,525.1 532.8,535.5 552.8,547.3 564.7,555.2 585.0,570.5 606.6,588.5 618.6,599.6 628.2,610.4 638.2,624.3 643.6,634.3 647.5,644.3 650.7,656.3 654.1,674.2 655.3,690.2 657.3,756.0 171.2,756.0 170.9,752.0 169.5,748.0 163.6,742.1 153.7,730.1 146.9,724.1 138.2,718.1 127.7,712.6 116.5,708.1 105.7,704.8 91.8,702.2 73.8,701.1 45.8,701.9 -24.0,705.6Z"/>
<path fill="#f49a7b" fill-rule="evenodd" d="M499.1,-24.0 904.0,-24.0 904.0,272.0 834.2,273.9 806.2,273.7 772.3,271.6 740.4,266.8 708.4,258.9 694.5,254.4 678.5,248.1 664.5,241.5 650.5,233.9 624.6,216.6 610.6,205.7 594.7,191.8 578.7,176.1 565.3,161.5 553.6,147.6 541.7,131.6 531.2,115.6 523.4,101.7 513.8,79.7 509.2,65.8 505.2,49.8 502.5,33.9 500.6,15.9 499.6,1.9ZM-24.0,466.7 -24.0,466.1 -22.0,466.6 -14.0,470.8 35.9,499.5 67.8,522.1 105.7,553.1 123.7,566.3 151.6,583.7 159.6,587.0 165.6,588.4 177.6,588.4 193.5,584.5 211.5,577.4 269.4,552.1 277.4,548.0 285.3,545.2 293.3,540.9 301.3,539.1 309.3,535.6 317.3,533.7 341.2,526.1 357.2,521.8 377.1,517.9 393.1,515.9 409.1,514.9 423.0,515.4 433.0,516.6 447.0,519.6 468.9,526.1 500.9,538.8 532.8,555.0 561.7,574.5 578.3,588.4 593.0,602.4 601.5,612.4 609.7,624.3 615.2,634.3 620.3,646.3 623.7,658.3 626.0,670.2 629.4,698.1 631.4,756.0 206.1,756.0 205.1,750.0 201.5,739.7 195.5,728.7 189.5,721.7 171.6,706.8 161.6,699.6 149.6,693.0 135.7,688.0 119.7,685.0 101.7,684.3 67.8,686.6 3.9,692.8 -24.0,694.0Z"/>
<path fill="#f08a6c" fill-rule="evenodd" d="M513.7,-24.0 904.0,-24.0 904.0,257.7 830.2,259.7 810.2,259.6 778.3,257.8 748.3,253.8 716.4,246.4 688.5,236.8 662.5,224.2 638.6,209.1 622.6,197.0 606.6,183.4 580.8,157.5 568.7,143.6 557.8,129.6 548.1,115.6 538.6,99.7 532.6,87.7 526.9,73.7 522.4,59.8 519.1,45.8 516.6,29.9 514.8,11.9ZM-24.0,480.7 -24.0,479.5 -22.0,480.0 -14.0,484.8 29.9,512.5 47.8,525.3 62.0,536.6 75.4,548.5 100.6,574.5 107.5,582.4 114.1,592.4 119.0,602.4 122.1,612.4 122.9,620.3 121.7,627.1 118.1,634.3 111.7,642.3 104.9,648.3 93.7,655.6 81.8,661.7 67.8,667.4 55.8,671.1 27.9,676.5 -24.0,682.3ZM393.4,528.6 413.1,528.3 433.0,530.1 453.0,534.7 474.9,542.5 498.9,553.7 518.8,565.2 539.9,580.5 556.7,595.7 571.3,612.4 583.7,630.3 593.5,648.3 601.9,668.2 607.8,688.2 611.0,706.1 613.3,730.1 614.2,756.0 213.1,756.0 212.5,748.0 209.4,740.0 204.6,722.1 188.6,682.2 185.2,670.2 183.5,660.2 183.1,644.3 185.0,630.3 190.1,616.4 196.5,606.4 206.6,596.4 223.5,584.4 237.0,576.5 263.5,562.5 271.4,559.0 279.3,554.4 287.3,551.6 293.3,548.0 303.3,545.5 311.3,542.2 341.2,535.4 371.1,530.5Z"/>
<path fill="#e9785d" fill-rule="evenodd" d="M525.4,-24.0 904.0,-24.0 904.0,246.1 834.2,247.9 808.2,247.8 776.3,245.9 752.3,242.7 722.4,236.0 694.5,226.7 680.5,220.5 668.5,214.3 646.6,200.5 632.6,190.1 616.6,176.7 602.6,163.5 590.7,151.0 578.9,137.6 567.9,123.6 558.2,109.7 549.7,95.7 543.6,83.7 537.9,69.8 533.4,55.8 530.6,43.8 528.3,29.9 526.2,7.9ZM-24.0,492.7 -24.0,492.1 -22.0,492.7 -16.0,496.3 21.9,521.9 36.3,532.6 48.2,542.5 60.9,554.5 70.0,564.5 79.1,576.5 84.9,586.4 87.6,594.4 88.4,604.4 86.4,614.4 82.8,622.3 75.8,632.3 67.8,640.2 59.6,646.3 49.8,651.6 35.9,656.8 23.9,659.6 -24.0,666.1ZM393.4,540.6 415.1,540.4 433.0,542.3 450.2,546.5 468.9,553.5 490.9,564.0 510.8,575.9 530.3,590.4 545.5,604.4 557.7,618.4 570.2,636.3 580.1,654.3 587.8,672.2 592.7,688.2 596.2,706.1 598.7,730.1 599.6,756.0 229.7,756.0 229.8,750.0 224.2,738.0 221.3,720.1 208.5,686.2 206.0,676.2 204.5,666.2 204.3,652.3 206.1,640.3 210.1,628.3 216.1,618.4 227.5,606.8 243.4,594.6 285.3,566.7 299.3,559.1 315.3,553.5 347.2,546.3 369.2,542.8Z"/>
<path fill="#e0654f" fill-rule="evenodd" d="M534.1,-24.0 904.0,-24.0 904.0,237.5 832.2,239.2 808.2,239.2 778.3,237.4 752.3,233.9 724.4,227.5 696.4,218.0 672.5,206.5 650.5,192.6 636.6,182.2 622.6,170.4 609.0,157.5 596.7,144.7 584.7,130.9 574.3,117.6 564.7,103.7 556.4,89.7 550.4,77.7 546.4,67.8 541.9,53.8 539.1,41.8 536.8,27.9 535.1,9.9ZM-24.0,502.6 -19.8,504.6 21.5,534.6 33.8,544.5 46.6,556.5 55.5,566.5 63.5,578.5 67.6,588.4 68.6,596.4 67.0,606.4 61.6,618.4 57.4,624.3 51.9,630.3 41.9,638.0 31.9,643.1 17.9,647.7 -4.0,651.9 -24.0,654.5ZM380.9,552.5 403.1,551.4 421.0,552.3 437.0,555.1 453.0,560.1 474.9,569.9 496.9,582.4 516.5,596.4 532.2,610.4 544.8,624.3 556.2,640.3 566.2,658.3 574.0,676.2 578.9,692.2 582.0,708.1 584.3,730.1 585.1,756.0 240.7,756.0 240.9,750.0 237.3,738.0 234.7,724.1 222.2,692.2 219.3,682.2 217.5,672.2 217.1,660.2 218.4,648.3 221.2,638.3 226.6,628.3 235.5,618.4 249.4,606.7 291.3,577.2 303.3,570.2 317.3,564.7 337.2,559.5 359.2,555.2Z"/>
<path fill="#d44e41" fill-rule="evenodd" d="M541.8,-24.0 904.0,-24.0 904.0,229.9 810.2,231.6 780.3,230.0 754.3,226.5 726.4,220.2 700.4,211.4 676.5,200.0 654.5,186.2 642.6,177.3 628.5,165.5 615.7,153.5 602.3,139.6 590.2,125.6 578.7,110.8 570.7,99.1 562.8,85.7 557.0,73.7 552.8,63.1 548.7,49.8 546.0,37.8 544.0,23.9 542.4,5.9ZM-24.0,516.6 -24.0,514.9 -22.0,515.7 5.6,536.6 23.9,551.7 32.7,560.5 43.1,572.5 47.0,578.5 49.5,584.4 50.7,592.4 49.6,600.4 46.5,608.4 41.9,616.4 37.1,622.3 29.9,628.8 20.8,634.3 11.9,637.8 1.9,639.8 -24.0,642.7ZM376.8,562.5 399.1,561.6 417.0,562.5 433.0,565.3 447.0,569.8 466.9,578.9 486.9,590.5 504.9,603.4 520.8,617.5 532.8,630.7 543.9,646.3 552.9,662.2 560.7,680.2 565.6,696.2 568.3,710.1 570.3,730.1 571.2,756.0 250.4,756.0 250.1,748.0 245.2,726.1 231.8,694.2 228.9,684.2 227.2,674.2 226.8,662.2 227.8,652.3 230.7,642.3 234.9,634.3 243.4,624.4 255.4,614.0 291.3,587.5 305.6,578.5 317.3,573.6 333.2,569.2 355.2,565.0Z"/>
<path fill="#c73635" fill-rule="evenodd" d="M549.5,-24.0 904.0,-24.0 904.0,222.4 812.2,224.1 782.3,222.5 757.6,219.4 730.2,213.4 702.4,204.0 680.5,193.5 660.5,181.1 647.5,171.5 633.1,159.5 610.6,137.4 588.7,111.4 578.7,97.5 570.4,83.7 564.7,72.5 560.4,61.8 556.6,49.8 553.8,37.8 551.8,25.9 550.2,7.9 549.3,-10.0ZM-24.0,534.6 -24.0,533.7 -22.0,534.2 -16.0,537.5 5.9,553.1 15.9,561.5 22.1,568.5 30.6,580.5 33.5,586.4 34.3,592.4 32.7,600.4 27.9,610.2 23.3,616.4 16.2,622.3 9.9,625.7 3.9,627.6 -24.0,632.0ZM363.2,572.5 385.1,570.9 407.1,571.2 423.0,573.2 437.0,577.0 454.5,584.4 472.9,594.7 490.9,607.2 506.9,620.7 519.8,634.3 530.3,648.3 539.6,664.2 547.7,682.2 552.3,696.2 555.6,712.1 557.3,730.1 558.2,756.0 259.5,756.0 259.1,748.0 255.4,730.1 252.3,722.1 241.1,698.1 237.8,688.2 236.2,680.2 235.1,668.2 235.7,658.3 237.4,650.3 240.8,642.3 248.2,632.3 258.9,622.3 284.6,602.4 307.3,586.5 317.3,581.9 329.2,578.4 345.2,575.0Z"/>
<path fill="#b8122a" fill-rule="evenodd" d="M558.3,-24.0 904.0,-24.0 904.0,213.9 812.2,215.6 784.3,214.2 760.3,211.3 732.4,205.4 704.4,195.9 684.5,186.1 664.5,173.7 636.6,151.4 614.6,129.3 602.7,115.6 592.7,102.6 583.7,89.7 576.7,77.8 571.9,67.8 567.3,55.8 561.7,33.9 560.0,21.9 558.4,3.9 557.8,-12.0ZM-24.0,546.5 -24.0,544.9 -20.8,546.5 -2.2,562.5 5.7,570.5 10.3,576.5 13.5,582.4 15.2,588.4 15.5,592.4 14.5,598.4 12.9,602.4 9.9,607.0 5.9,611.0 0.7,614.4 -8.3,618.4 -18.0,621.8 -24.0,623.2ZM376.4,580.5 397.1,580.2 413.1,581.4 427.0,584.3 438.6,588.4 455.0,596.6 473.5,608.4 488.9,620.3 502.9,633.6 512.8,645.1 522.0,658.3 530.5,674.2 537.1,690.2 540.6,702.1 543.2,716.1 544.5,732.1 545.3,756.0 269.4,756.0 267.6,740.0 265.2,730.1 250.8,702.1 247.4,693.4 245.0,684.2 243.7,672.2 244.0,662.2 245.6,654.3 249.3,646.3 255.4,638.2 268.5,626.3 301.8,600.4 314.1,592.4 324.3,588.4 341.2,584.4 357.2,582.0Z"/>
<use href="#bd" transform="scale(0.99977 1.00068)"/>
</g>
<rect x="0" y="0" width="879.8" height="735.0" fill="none" stroke="#000" stroke-width="3.9"/>
<path d="M0.0 735.0 V755.6 M146.6 735.0 V755.6 M293.3 735.0 V755.6 M439.9 735.0 V755.6 M586.5 735.0 V755.6 M733.2 735.0 V755.6 M879.8 735.0 V755.6 M0 0.0 H-20.6 M0 147.0 H-20.6 M0 294.0 H-20.6 M0 441.0 H-20.6 M0 588.0 H-20.6 M0 735.0 H-20.6" stroke="#000" stroke-width="3.9" fill="none"/>
<text class="k" x="0.0" y="791.6" text-anchor="middle">113°E</text>
<text class="k" x="146.6" y="791.6" text-anchor="middle">114°E</text>
<text class="k" x="293.3" y="791.6" text-anchor="middle">115°E</text>
<text class="k" x="439.9" y="791.6" text-anchor="middle">116°E</text>
<text class="k" x="586.5" y="791.6" text-anchor="middle">117°E</text>
<text class="k" x="733.2" y="791.6" text-anchor="middle">118°E</text>
<text class="k" x="879.8" y="791.6" text-anchor="middle">119°E</text>
<text class="k" x="-34.6" y="9.7" text-anchor="end">42°N</text>
<text class="k" x="-34.6" y="156.7" text-anchor="end">41°N</text>
<text class="k" x="-34.6" y="303.7" text-anchor="end">40°N</text>
<text class="k" x="-34.6" y="450.7" text-anchor="end">39°N</text>
<text class="k" x="-34.6" y="597.7" text-anchor="end">38°N</text>
<text class="k" x="-34.6" y="744.7" text-anchor="end">37°N</text>
</g>
<text class="t" x="1215.8" y="81.2">(b) DA_2step_wv123</text>
<g transform="translate(118.8 1181.8)">
<g clip-path="url(#cpc)">
<rect width="879.6" height="735.1" fill="#f1cdba"/>
<rect width="879.6" height="735.1" fill="#ead5c9"/>
<path fill="#f1cdba" fill-rule="evenodd" d="M-24.0,-24.0 904.0,-24.0 904.0,760.0 322.9,760.0 323.6,758.0 332.6,746.0 341.9,736.1 352.4,728.1 379.1,710.0 395.1,696.2 405.0,684.2 409.7,676.2 412.2,670.2 414.2,660.3 413.9,652.3 411.1,643.1 405.4,634.3 399.1,628.3 391.1,623.4 381.1,620.2 371.1,619.1 361.2,619.8 351.2,622.1 341.2,626.0 333.2,630.5 325.2,636.4 317.3,644.0 310.3,652.3 303.5,662.2 298.2,672.2 294.0,682.2 290.8,692.2 288.6,702.1 286.7,720.1 286.3,760.0 -24.0,760.0Z"/>
<path fill="#f5c2aa" fill-rule="evenodd" d="M436.9,-24.0 904.0,-24.0 904.0,412.2 816.2,432.1 786.3,437.7 762.3,441.2 732.4,443.6 706.4,444.3 680.5,444.0 650.5,442.2 616.6,438.2 584.7,432.4 560.7,426.7 534.8,418.9 504.9,407.6 481.3,396.9 461.5,385.0 446.2,373.0 438.5,365.0 431.2,355.0 424.4,343.1 417.1,327.1 411.1,311.1 406.4,295.2 403.4,281.2 402.0,267.3 402.7,255.3 405.0,243.3 408.0,233.3 416.8,209.4 423.2,185.5 437.0,92.1 439.6,67.8 441.6,35.8 441.1,23.9 437.9,-2.1ZM-24.0,404.9 -24.0,403.8 -22.0,404.6 -8.0,414.8 -0.1,421.1 14.5,434.8 29.4,444.8 69.8,466.0 103.7,485.0 127.7,496.4 161.6,511.3 178.4,520.6 188.8,528.6 198.2,538.6 206.4,550.5 213.4,564.5 217.0,574.5 219.0,582.5 220.2,590.4 220.3,598.4 218.9,608.4 216.6,618.4 213.4,628.3 208.5,640.3 199.2,658.3 187.8,676.2 173.6,694.9 140.5,734.1 131.1,748.0 124.7,760.0 -24.0,760.0ZM599.5,628.3 606.6,627.0 614.6,626.6 622.6,627.5 630.6,629.6 638.6,633.1 646.6,637.9 656.5,645.3 664.5,652.5 673.3,662.2 681.8,674.2 689.5,688.2 700.1,712.1 720.0,740.1 730.0,756.0 731.7,760.0 497.0,760.0 501.1,752.0 538.8,692.0 554.5,662.2 560.7,652.8 568.7,644.3 576.7,638.2 588.7,631.9Z"/>
<path fill="#f7b79b" fill-rule="evenodd" d="M491.7,-24.0 904.0,-24.0 904.0,290.6 844.1,308.1 816.2,314.2 796.2,317.4 780.3,319.0 762.3,319.8 746.3,319.0 730.4,316.4 714.4,312.4 696.4,306.4 680.5,299.8 660.5,289.9 640.6,278.6 624.6,268.7 608.6,257.3 592.7,244.4 574.7,228.2 564.1,217.4 554.2,205.4 546.8,195.1 539.8,183.5 525.1,155.5 516.0,135.6 509.9,119.6 505.6,105.7 497.9,69.8 494.2,37.8ZM-24.0,462.8 -24.0,461.1 -22.0,461.6 -14.0,465.7 11.9,479.9 32.5,492.7 51.8,506.2 68.1,518.6 82.5,530.6 95.4,542.6 103.7,551.5 110.9,560.5 117.4,570.5 122.8,580.5 127.1,590.4 130.4,600.4 132.5,610.4 133.1,618.4 132.5,626.3 131.0,632.3 128.7,638.3 124.2,646.3 113.5,660.3 97.7,674.8 75.8,690.1 23.9,720.4 3.9,730.3 -24.0,741.6Z"/>
<path fill="#f7a98b" fill-rule="evenodd" d="M523.3,-24.0 904.0,-24.0 904.0,256.0 834.2,255.2 784.3,256.7 756.3,254.9 734.4,251.5 708.4,245.0 680.5,234.2 652.5,219.6 628.6,203.9 602.6,182.5 591.4,171.5 582.7,161.7 571.8,147.6 562.4,133.6 555.6,121.6 547.8,105.7 541.7,91.7 536.5,77.7 533.1,65.8 529.2,47.8 527.1,33.9 524.5,5.9ZM-24.0,498.7 -22.0,499.0 -16.0,502.0 -4.0,509.0 3.2,514.6 10.3,522.6 13.9,525.7 29.9,532.6 39.4,540.6 62.6,570.5 72.2,584.4 80.0,600.4 81.7,606.4 82.3,612.4 80.8,622.4 75.3,632.3 62.7,646.3 44.4,662.2 25.9,675.4 10.5,684.2 -2.0,689.2 -24.0,695.8Z"/>
<path fill="#f49a7b" fill-rule="evenodd" d="M545.2,-24.0 904.0,-24.0 904.0,223.5 840.1,226.1 814.2,226.2 786.3,224.6 758.3,220.5 730.4,213.7 704.4,204.1 676.5,190.1 652.5,175.1 638.6,164.8 626.6,154.8 605.0,133.6 594.8,121.6 585.8,109.7 577.8,97.7 569.8,83.7 563.9,71.8 558.1,57.8 550.9,33.9 546.6,7.9ZM-24.0,556.5 -24.0,555.5 -22.0,555.8 -0.1,560.4 5.9,562.4 9.9,565.0 30.6,592.4 33.9,600.4 34.8,606.4 33.8,614.4 30.4,622.4 25.9,628.6 16.6,638.3 9.9,644.4 1.9,650.3 -16.0,660.6 -24.0,663.8Z"/>
<path fill="#f08a6c" fill-rule="evenodd" d="M565.0,-24.0 904.0,-24.0 904.0,203.4 842.1,206.0 818.2,206.3 792.2,205.0 766.3,201.6 742.3,196.3 718.4,188.1 692.5,176.0 668.5,161.7 644.6,143.8 623.1,123.6 604.8,101.7 596.5,89.7 589.3,77.7 577.9,53.8 573.6,41.8 570.3,29.9 567.9,17.9 566.1,3.9Z"/>
<path fill="#e9785d" fill-rule="evenodd" d="M580.1,-24.0 904.0,-24.0 904.0,188.4 842.1,191.0 820.2,191.3 794.2,190.1 770.3,187.1 746.3,181.8 724.4,174.4 700.4,163.2 678.5,150.3 654.5,132.5 634.6,113.9 617.6,93.7 603.2,71.8 592.5,49.8 585.3,27.9 581.3,3.9Z"/>
<path fill="#e0654f" fill-rule="evenodd" d="M592.6,-24.0 904.0,-24.0 904.0,175.9 824.2,178.8 798.2,177.9 776.3,175.4 752.3,170.5 732.4,164.1 710.4,154.4 688.5,141.9 665.7,125.6 645.9,107.7 628.7,87.7 614.1,65.8 604.3,45.8 600.0,33.9 597.2,23.9 593.6,1.9Z"/>
<path fill="#d44e41" fill-rule="evenodd" d="M603.7,-24.0 904.0,-24.0 904.0,164.8 822.2,167.7 800.2,166.9 778.3,164.4 756.3,160.0 738.4,154.4 716.4,144.9 696.2,133.6 674.5,118.3 655.7,101.7 638.6,82.3 624.7,61.8 614.8,41.8 608.2,21.9 604.8,1.9Z"/>
<path fill="#c73635" fill-rule="evenodd" d="M615.1,-24.0 904.0,-24.0 904.0,153.4 826.2,156.3 802.2,155.6 782.3,153.5 762.3,149.8 744.3,144.5 724.4,136.1 704.4,125.3 682.5,110.1 665.8,95.7 648.6,76.6 635.6,57.8 625.5,37.8 619.4,19.9 616.1,-0.1Z"/>
<path fill="#b8122a" fill-rule="evenodd" d="M626.8,-24.0 904.0,-24.0 904.0,141.8 830.2,144.8 806.2,144.3 786.3,142.5 766.3,138.8 748.3,133.6 730.4,126.1 711.0,115.6 692.5,103.3 674.5,87.9 658.5,70.3 646.6,53.4 636.6,34.1 630.6,16.5 627.6,-2.1Z"/>
<use href="#bd" transform="scale(0.99955 1.00082)"/>
</g>
<rect x="0" y="0" width="879.6" height="735.1" fill="none" stroke="#000" stroke-width="3.9"/>
<path d="M0.0 735.1 V755.7 M146.6 735.1 V755.7 M293.2 735.1 V755.7 M439.8 735.1 V755.7 M586.4 735.1 V755.7 M733.0 735.1 V755.7 M879.6 735.1 V755.7 M0 0.0 H-20.6 M0 147.0 H-20.6 M0 294.0 H-20.6 M0 441.1 H-20.6 M0 588.1 H-20.6 M0 735.1 H-20.6" stroke="#000" stroke-width="3.9" fill="none"/>
<text class="k" x="0.0" y="791.7" text-anchor="middle">113°E</text>
<text class="k" x="146.6" y="791.7" text-anchor="middle">114°E</text>
<text class="k" x="293.2" y="791.7" text-anchor="middle">115°E</text>
<text class="k" x="439.8" y="791.7" text-anchor="middle">116°E</text>
<text class="k" x="586.4" y="791.7" text-anchor="middle">117°E</text>
<text class="k" x="733.0" y="791.7" text-anchor="middle">118°E</text>
<text class="k" x="879.6" y="791.7" text-anchor="middle">119°E</text>
<text class="k" x="-34.6" y="9.7" text-anchor="end">42°N</text>
<text class="k" x="-34.6" y="156.7" text-anchor="end">41°N</text>
<text class="k" x="-34.6" y="303.7" text-anchor="end">40°N</text>
<text class="k" x="-34.6" y="450.8" text-anchor="end">39°N</text>
<text class="k" x="-34.6" y="597.8" text-anchor="end">38°N</text>
<text class="k" x="-34.6" y="744.8" text-anchor="end">37°N</text>
</g>
<text class="t" x="115.8" y="1149.5">(c) DA_2step_wv12</text>
<g transform="translate(1223.8 1180.3)">
<g clip-path="url(#cpd)">
<rect width="879.8" height="734.9" fill="#f1cdba"/>
<rect width="879.8" height="734.9" fill="#ead5c9"/>
<path fill="#f1cdba" fill-rule="evenodd" d="M-24.0,-24.0 904.0,-24.0 904.0,756.0 468.3,756.0 467.6,754.0 460.3,744.0 449.9,732.1 439.6,724.1 429.0,718.3 411.1,710.9 397.1,706.9 377.1,703.7 355.2,702.4 329.2,703.7 309.3,706.4 286.9,712.1 265.4,719.9 251.4,726.3 242.9,732.1 239.2,736.1 235.2,742.0 228.7,756.0 -24.0,756.0Z"/>
<path fill="#f5c2aa" fill-rule="evenodd" d="M439.3,-24.0 904.0,-24.0 904.0,443.0 814.2,442.0 732.4,443.8 650.5,444.4 608.6,446.0 580.7,448.5 568.7,451.2 564.7,453.1 561.1,456.8 559.6,460.8 559.4,464.7 560.9,474.7 563.6,482.7 568.4,490.7 575.0,498.7 596.7,519.2 657.0,570.5 670.8,584.4 685.6,602.4 705.1,630.3 726.4,664.4 740.4,689.4 751.2,714.1 756.3,720.9 762.3,724.5 768.3,725.8 776.3,725.2 784.3,723.0 800.2,716.5 822.2,705.6 850.1,693.4 886.0,679.0 904.0,672.6 904.0,756.0 510.5,756.0 509.7,754.0 498.0,740.0 484.9,728.7 413.1,684.9 405.1,681.7 393.1,679.2 379.1,677.7 361.2,677.2 327.2,678.4 307.3,680.9 281.3,687.8 251.4,698.9 221.5,713.2 209.2,720.1 200.2,726.1 192.9,732.1 187.2,738.0 179.5,748.0 175.5,754.0 174.9,756.0 -24.0,756.0 -24.0,402.3 3.9,406.3 17.9,409.6 27.9,412.9 37.9,418.0 56.5,432.8 71.8,441.9 97.7,453.3 127.7,464.4 153.6,472.7 177.6,479.1 193.5,482.1 211.5,483.8 227.5,483.8 245.4,482.1 267.4,478.5 289.3,473.4 349.2,456.3 393.9,444.8 421.5,436.8 439.0,429.7 443.2,426.8 446.7,422.9 448.2,418.9 448.6,412.9 447.7,406.9 445.3,398.9 439.8,386.9 427.8,367.0 422.6,357.0 414.9,339.1 408.5,321.1 402.6,297.2 400.4,275.2 401.4,257.3 404.9,241.3 412.1,221.4 426.6,185.5 431.6,169.5 442.7,105.7 443.7,91.7 443.8,73.7 439.7,3.9Z"/>
<path fill="#f7b79b" fill-rule="evenodd" d="M487.0,-24.0 904.0,-24.0 904.0,361.9 864.1,344.8 848.1,339.3 830.2,335.4 768.3,326.6 746.3,322.2 720.4,314.7 688.5,302.0 664.5,290.3 636.6,272.3 616.6,256.9 567.9,215.4 560.7,208.0 555.6,201.4 531.2,163.5 516.0,133.6 507.1,111.7 497.2,77.7 491.7,47.8 488.0,5.9ZM-24.0,440.8 -24.0,439.8 -22.0,440.2 -0.1,447.7 33.9,461.9 53.8,472.1 96.1,496.7 167.6,534.6 199.5,548.4 227.5,557.2 247.4,561.3 263.4,563.5 277.4,564.3 297.3,563.9 309.3,562.9 319.3,561.2 359.2,550.8 369.2,549.7 379.1,549.7 409.1,551.9 435.0,555.5 453.0,559.4 470.9,565.4 500.9,577.3 518.8,585.9 536.8,597.2 552.8,610.0 569.9,628.3 579.6,640.3 586.6,650.3 588.7,654.6 590.1,660.2 590.0,666.2 588.4,672.2 584.9,678.2 581.4,682.2 576.7,685.9 570.7,689.2 562.2,692.2 552.8,694.3 542.8,695.2 534.8,694.8 518.8,691.4 488.9,681.8 449.0,666.0 413.1,650.1 403.1,647.0 389.1,645.0 355.2,643.1 327.2,640.7 315.3,640.5 303.3,641.4 289.3,644.4 275.4,649.8 229.5,672.9 195.5,693.0 175.6,707.4 142.9,734.1 136.1,742.0 129.0,756.0 126.3,756.0 123.7,745.9 121.7,743.9 117.7,742.7 111.7,743.8 107.7,746.0 101.7,752.1 99.7,756.0 -24.0,756.0Z"/>
<path fill="#f7a98b" fill-rule="evenodd" d="M512.8,-24.0 904.0,-24.0 904.0,267.1 830.2,266.2 796.2,264.7 766.3,261.9 740.4,258.0 708.4,249.6 678.5,238.8 650.5,225.0 628.6,210.7 614.6,199.6 604.6,190.5 592.0,177.5 578.1,161.5 560.1,137.6 550.2,121.6 541.4,105.7 536.0,93.7 529.2,75.7 524.2,59.8 520.3,43.8 517.4,29.9 514.6,9.9 513.3,-4.1ZM-24.0,460.8 -24.0,460.1 -22.0,460.4 3.9,469.4 23.9,477.7 39.9,485.4 55.9,494.7 118.5,536.6 141.3,554.5 171.2,582.4 178.3,590.4 182.7,596.4 189.6,610.4 192.2,620.3 192.2,630.3 189.3,640.3 182.4,652.3 175.9,660.2 166.2,670.2 133.7,698.3 99.7,729.7 89.8,743.3 83.0,756.0 -24.0,756.0Z"/>
<path fill="#f49a7b" fill-rule="evenodd" d="M530.6,-24.0 904.0,-24.0 904.0,231.9 846.1,233.3 812.2,232.8 778.3,230.8 746.3,226.4 720.4,220.5 694.5,211.7 670.5,200.5 646.6,185.9 632.6,175.6 620.6,165.5 596.4,141.6 586.1,129.6 576.7,117.3 566.2,101.7 557.8,87.7 550.6,73.7 544.8,60.2 537.0,35.8 534.4,23.9 532.1,7.9ZM-24.0,478.7 -24.0,477.4 -22.0,477.7 -8.0,482.4 7.9,488.3 21.9,494.5 37.9,504.4 55.6,518.6 102.5,560.5 118.4,576.5 128.5,588.4 136.9,600.4 144.1,612.4 148.6,622.3 150.7,632.3 150.2,642.3 147.4,652.3 141.9,664.2 129.0,682.2 91.8,724.5 82.6,738.0 74.5,752.0 73.0,756.0 -24.0,756.0Z"/>
<path fill="#f08a6c" fill-rule="evenodd" d="M551.3,-24.0 904.0,-24.0 904.0,210.8 848.1,212.3 818.2,212.0 784.3,210.2 754.3,206.5 728.4,200.9 704.4,193.1 682.5,183.0 660.5,170.0 648.6,161.4 636.5,151.5 623.5,139.6 611.9,127.6 594.1,105.7 584.5,91.7 576.1,77.7 564.5,53.8 557.2,31.9 554.3,17.9 552.4,3.9ZM-24.0,494.7 -22.0,494.8 -2.0,501.4 19.9,510.5 33.9,519.0 51.0,532.6 76.4,556.5 102.3,584.4 109.8,594.4 116.1,604.4 120.9,614.4 123.7,622.3 125.6,632.3 125.0,642.3 120.8,656.3 115.0,668.2 103.1,686.2 65.0,732.1 57.8,743.6 51.6,756.0 -24.0,756.0Z"/>
<path fill="#e9785d" fill-rule="evenodd" d="M566.9,-24.0 904.0,-24.0 904.0,195.3 848.1,196.7 820.2,196.5 786.3,194.8 758.3,191.4 734.4,186.4 710.4,178.8 690.5,169.7 670.5,157.9 648.6,141.4 625.7,119.6 607.5,97.7 597.9,83.7 590.6,71.8 579.8,49.8 575.3,37.8 571.9,25.9 567.9,1.9ZM-24.0,510.6 -24.0,508.9 -22.0,509.2 -2.0,515.0 11.9,520.5 27.9,530.0 45.8,544.3 67.8,564.8 78.6,576.5 88.4,588.4 95.4,598.4 101.2,608.4 104.9,616.4 107.3,624.3 108.6,634.3 107.5,646.3 103.7,660.2 98.3,672.2 92.2,682.2 81.4,696.2 70.9,708.1 46.1,734.1 42.0,740.0 33.8,756.0 -24.0,756.0Z"/>
<path fill="#e0654f" fill-rule="evenodd" d="M579.3,-24.0 904.0,-24.0 904.0,182.9 828.2,184.3 794.2,183.0 764.3,179.8 738.4,174.7 718.4,168.6 700.4,160.9 678.5,148.4 658.5,133.7 636.6,113.1 618.4,91.7 601.4,65.8 591.5,45.8 587.0,33.9 584.1,23.9 580.3,1.9ZM-24.0,522.6 -24.0,521.6 -22.0,521.9 -14.0,524.0 1.9,528.8 11.9,532.8 23.9,539.4 37.8,550.5 59.8,571.7 73.9,588.4 80.7,598.4 87.4,610.4 90.9,618.4 93.1,626.3 93.8,638.3 92.2,650.3 88.0,664.2 81.4,678.2 72.2,692.2 60.8,706.1 32.3,734.1 23.3,748.0 19.5,756.0 -24.0,756.0Z"/>
<path fill="#d44e41" fill-rule="evenodd" d="M589.6,-24.0 904.0,-24.0 904.0,172.6 852.1,173.9 824.2,173.9 790.2,172.3 768.3,169.9 744.2,165.5 724.4,159.7 705.0,151.5 684.5,140.0 665.0,125.6 643.8,105.7 634.6,95.4 625.4,83.7 610.6,60.9 600.7,41.0 594.2,21.9 590.8,1.9ZM-24.0,532.6 -24.0,531.9 -22.0,532.2 -8.0,536.0 9.9,542.6 20.4,548.5 32.3,558.5 53.3,580.5 64.2,594.4 69.1,602.4 74.1,612.4 77.2,620.3 79.1,628.3 79.4,640.3 77.1,654.3 73.3,666.2 66.6,680.2 59.3,692.2 50.4,704.1 39.8,716.1 23.0,732.1 13.2,746.0 8.1,756.0 -24.0,756.0Z"/>
<path fill="#c73635" fill-rule="evenodd" d="M600.3,-24.0 904.0,-24.0 904.0,161.9 828.2,163.3 794.2,161.9 768.3,159.1 748.3,155.5 730.4,150.5 710.4,142.3 692.5,132.4 674.5,119.6 664.5,111.1 652.5,99.4 638.8,83.7 622.3,59.8 611.9,39.8 607.8,29.9 604.8,19.9 601.3,-0.1ZM-24.0,542.5 -24.0,541.9 -22.0,542.2 -10.0,545.4 7.8,552.5 17.0,558.5 29.9,570.2 46.7,588.4 56.8,602.4 60.1,608.4 63.3,616.4 66.3,630.3 65.9,642.3 63.2,654.3 56.7,672.2 50.0,686.2 43.9,696.2 34.9,708.1 17.9,726.1 8.4,738.0 -2.4,754.0 -3.0,756.0 -24.0,756.0Z"/>
<path fill="#b8122a" fill-rule="evenodd" d="M610.6,-24.0 904.0,-24.0 904.0,151.7 830.2,153.1 794.2,151.8 776.3,149.9 752.3,145.9 736.4,141.9 716.4,133.8 698.4,124.1 680.5,111.3 658.5,90.8 646.6,77.1 630.6,53.6 620.6,34.2 614.6,17.0 611.6,-0.1ZM-24.0,552.5 -22.0,552.4 -14.0,554.8 1.9,561.3 10.3,566.5 21.6,576.5 35.9,591.0 46.4,604.4 51.7,614.4 54.0,626.3 53.6,636.3 50.3,650.3 44.0,668.2 36.9,684.2 31.0,694.2 23.9,704.1 -0.1,732.6 -13.0,752.0 -14.8,756.0 -24.0,756.0Z"/>
<use href="#bd" transform="scale(0.99977 1.00054)"/>
</g>
<rect x="0" y="0" width="879.8" height="734.9" fill="none" stroke="#000" stroke-width="3.9"/>
<path d="M0.0 734.9 V755.5 M146.6 734.9 V755.5 M293.3 734.9 V755.5 M439.9 734.9 V755.5 M586.5 734.9 V755.5 M733.2 734.9 V755.5 M879.8 734.9 V755.5 M0 0.0 H-20.6 M0 147.0 H-20.6 M0 294.0 H-20.6 M0 440.9 H-20.6 M0 587.9 H-20.6 M0 734.9 H-20.6" stroke="#000" stroke-width="3.9" fill="none"/>
<text class="k" x="0.0" y="791.5" text-anchor="middle">113°E</text>
<text class="k" x="146.6" y="791.5" text-anchor="middle">114°E</text>
<text class="k" x="293.3" y="791.5" text-anchor="middle">115°E</text>
<text class="k" x="439.9" y="791.5" text-anchor="middle">116°E</text>
<text class="k" x="586.5" y="791.5" text-anchor="middle">117°E</text>
<text class="k" x="733.2" y="791.5" text-anchor="middle">118°E</text>
<text class="k" x="879.8" y="791.5" text-anchor="middle">119°E</text>
<text class="k" x="-34.6" y="9.7" text-anchor="end">42°N</text>
<text class="k" x="-34.6" y="156.7" text-anchor="end">41°N</text>
<text class="k" x="-34.6" y="303.7" text-anchor="end">40°N</text>
<text class="k" x="-34.6" y="450.6" text-anchor="end">39°N</text>
<text class="k" x="-34.6" y="597.6" text-anchor="end">38°N</text>
<text class="k" x="-34.6" y="744.6" text-anchor="end">37°N</text>
</g>
<text class="t" x="1212.6" y="1152.6">(d) DA_2step_wv123</text>
<g transform="translate(118.8 2234.0)">
<g clip-path="url(#cpe)">
<rect width="879.6" height="734.9" fill="#f1cdba"/>
<rect width="879.6" height="734.9" fill="#ead5c9"/>
<path fill="#f1cdba" fill-rule="evenodd" d="M-24.0,-24.0 35.5,-24.0 36.5,-22.0 39.4,-20.0 45.8,-18.7 57.8,-19.5 61.8,-21.2 64.1,-24.0 79.4,-24.0 89.8,-21.2 95.7,-17.7 99.7,-16.5 115.7,-19.3 118.9,-22.0 119.8,-24.0 141.8,-24.0 143.6,-20.8 145.6,-20.3 152.8,-22.0 156.0,-24.0 184.1,-24.0 191.5,-14.8 193.5,-13.5 195.5,-13.3 197.5,-14.1 199.5,-16.2 201.4,-24.0 226.3,-24.0 227.5,-22.4 229.5,-21.8 231.4,-22.6 232.4,-24.0 246.9,-24.0 247.6,-22.0 251.3,-18.0 257.4,-14.8 275.4,-10.9 285.3,-12.4 289.3,-12.2 308.2,-2.1 315.3,0.7 323.3,1.1 333.2,-1.7 337.2,-1.9 341.2,-0.7 349.2,3.2 355.2,3.8 361.2,3.3 367.2,0.7 373.1,-3.5 383.1,-14.1 387.1,-16.7 391.1,-18.1 405.1,-19.1 419.0,-14.0 423.0,-14.6 431.0,-18.9 435.0,-19.7 439.0,-18.7 445.0,-15.8 451.0,-15.2 470.9,-19.6 475.2,-22.0 476.4,-24.0 904.0,-24.0 904.0,756.0 -24.0,756.0ZM239.4,324.6 233.8,327.1 231.1,329.1 229.7,331.1 228.1,339.1 221.3,349.0 220.7,351.0 221.5,353.1 223.5,354.3 227.5,354.8 236.0,353.0 253.4,343.7 257.4,340.0 258.4,337.1 258.1,335.1 257.3,333.1 253.8,329.1 247.1,325.1 243.4,324.3Z"/>
<path fill="#f5c2aa" fill-rule="evenodd" d="M528.7,-24.0 904.0,-24.0 904.0,503.7 892.0,504.6 886.0,506.4 870.1,513.3 856.1,520.5 832.2,529.3 827.9,532.6 810.8,548.5 808.3,552.5 807.2,558.5 808.1,564.5 810.8,570.5 822.1,584.4 827.2,588.4 840.1,595.4 850.1,603.2 856.1,605.6 868.1,607.3 878.1,610.3 886.0,611.7 898.0,616.2 904.0,617.4 904.0,756.0 -24.0,756.0 -24.0,401.6 -14.0,403.5 -4.0,407.0 9.9,409.7 27.9,419.7 39.9,423.6 49.8,423.4 69.8,418.3 75.8,418.2 79.8,418.9 83.9,420.9 93.7,429.3 101.7,433.8 111.7,440.9 119.7,445.2 127.4,450.8 133.7,452.7 139.6,452.2 157.6,448.4 173.6,443.2 197.5,438.3 205.5,435.3 221.5,427.8 235.4,426.2 241.4,423.4 258.7,408.9 267.4,402.6 279.3,387.1 289.3,379.3 293.3,375.0 297.2,367.0 303.3,341.1 302.7,335.1 299.5,329.1 294.9,325.1 279.3,316.9 276.3,313.1 272.7,303.2 269.4,297.7 265.4,294.2 257.6,289.2 251.0,281.2 237.4,268.2 233.4,266.2 227.5,265.6 213.5,268.3 209.5,268.1 205.5,266.6 195.5,259.9 189.5,257.9 181.6,257.3 177.6,257.8 175.0,259.3 169.6,265.0 167.6,265.8 165.6,265.6 163.6,263.6 161.6,256.9 159.8,255.3 157.6,255.2 147.6,258.9 135.7,257.8 133.7,258.5 125.7,264.0 115.7,264.4 105.7,266.0 93.7,262.3 85.8,263.8 81.8,263.8 71.8,258.9 65.8,257.6 63.8,258.2 61.8,260.3 60.0,267.3 61.0,271.2 66.1,277.2 66.1,281.2 63.8,282.7 59.8,280.7 53.8,273.9 49.8,272.3 45.8,272.1 27.9,274.7 21.9,273.7 19.9,272.3 17.9,269.6 15.9,262.8 13.9,261.6 11.9,261.7 5.9,263.1 3.2,265.3 2.3,269.2 2.2,281.2 0.6,285.2 -2.0,288.0 -4.0,288.9 -8.0,288.7 -18.0,281.4 -24.0,280.6 -24.0,131.5 -16.0,130.3 -7.4,127.6 -5.1,125.6 -4.0,123.7 -3.4,119.6 -4.0,117.4 -8.0,115.3 -24.0,114.5 -24.0,88.6 -18.0,87.5 -14.8,85.7 -13.1,83.7 -12.5,81.7 -14.2,73.7 -13.8,69.8 -8.0,61.8 -4.0,51.0 9.9,38.9 13.9,38.5 21.9,41.4 25.9,41.9 29.9,40.6 39.9,34.9 45.8,33.0 49.0,33.9 53.9,39.8 57.8,41.5 63.8,40.3 73.8,35.6 75.8,35.4 77.8,37.2 81.4,47.8 83.8,52.2 85.8,53.9 89.8,54.6 93.7,52.4 95.7,49.8 99.1,41.8 101.7,37.5 105.7,33.9 107.7,33.1 109.7,33.2 111.7,34.2 117.7,41.1 125.7,46.5 128.7,49.8 135.7,60.9 139.6,64.1 141.6,64.8 145.6,63.9 151.6,60.3 157.6,57.8 165.6,56.8 171.6,58.9 181.6,66.1 187.5,67.1 191.7,65.8 199.5,58.7 203.5,56.9 209.5,56.8 221.5,61.1 225.5,61.3 239.4,56.2 247.4,55.9 253.4,52.8 257.4,51.7 259.4,52.1 265.4,56.4 269.4,57.5 273.4,57.1 281.3,54.9 295.3,57.4 300.6,55.8 307.3,50.0 311.3,48.6 315.3,49.6 324.6,57.8 331.2,60.8 337.2,60.8 345.2,57.3 351.2,56.5 361.2,56.8 373.1,60.1 377.1,60.0 387.1,55.1 390.6,51.8 394.4,45.8 397.1,44.0 401.1,44.1 411.1,47.2 415.1,47.5 418.1,45.8 425.0,37.9 429.0,36.3 433.0,36.9 443.0,41.5 445.0,41.5 448.9,39.8 466.9,26.0 468.9,23.4 474.7,11.9 482.9,4.2 486.9,1.5 490.9,-0.1 502.9,-2.1 508.9,-4.6 513.5,-8.0 526.4,-20.0ZM347.2,652.2 343.2,654.3 338.8,658.3 332.2,670.2 329.7,680.2 329.5,694.2 331.7,700.1 337.2,705.0 349.2,708.8 357.2,709.0 361.2,707.7 367.2,704.1 374.6,696.2 378.3,690.2 381.7,682.2 382.9,676.2 382.8,672.2 379.4,662.2 376.6,658.3 373.1,655.4 367.2,652.8 359.2,650.7 353.2,650.6Z"/>
<path fill="#f7b79b" fill-rule="evenodd" d="M560.7,-24.0 904.0,-24.0 904.0,471.4 884.0,474.6 852.1,478.3 836.1,483.6 814.2,484.1 788.2,492.2 772.3,493.4 765.5,494.7 744.3,502.2 727.1,506.6 720.4,509.7 709.2,516.6 701.5,522.6 696.8,528.6 695.4,532.6 696.0,536.6 697.1,538.6 700.4,542.1 710.4,550.3 718.4,559.3 722.0,564.5 729.4,578.5 756.3,613.3 769.6,626.3 778.3,638.0 796.2,651.3 802.2,654.6 816.2,660.4 830.2,662.4 850.1,667.1 864.1,668.0 890.0,666.4 904.0,667.3 904.0,756.0 433.9,756.0 441.8,712.1 443.1,698.1 445.4,684.2 448.2,648.3 447.3,638.3 440.0,614.4 437.6,600.4 432.7,592.4 419.0,579.1 413.1,570.7 409.1,567.3 405.1,566.2 395.1,566.1 385.1,561.7 381.1,560.7 375.1,560.7 367.2,563.3 365.2,563.4 360.4,560.5 357.2,559.8 347.2,562.1 339.2,565.9 336.6,568.5 331.9,576.5 328.5,580.5 309.1,596.4 303.4,602.4 294.4,618.4 286.3,628.3 283.9,632.3 278.6,650.3 273.0,664.2 266.3,678.2 262.0,696.2 259.7,702.1 254.6,710.1 249.4,720.1 234.5,734.1 221.5,749.8 218.7,756.0 -24.0,756.0 -24.0,466.5 -8.0,469.9 11.9,478.4 29.9,482.8 51.8,489.9 67.8,497.1 83.8,501.8 115.7,505.7 147.6,503.0 197.5,494.8 211.5,493.5 221.5,491.8 231.4,488.9 249.4,481.2 263.4,478.3 281.3,471.9 295.3,469.7 301.3,468.0 311.3,462.5 323.3,448.8 337.2,438.8 348.4,432.8 354.2,428.8 357.2,426.1 359.4,422.9 363.8,408.9 363.7,402.9 361.0,394.9 360.8,390.9 365.5,375.0 366.7,363.0 371.1,354.0 371.6,349.0 370.7,345.1 367.2,338.3 357.6,327.1 355.1,323.1 353.3,317.1 352.2,303.2 351.2,300.9 343.4,295.2 341.2,291.8 336.9,281.2 331.4,263.3 328.0,237.3 329.4,235.3 335.2,230.7 337.2,228.0 341.2,217.4 348.5,209.4 349.8,207.4 350.4,203.4 349.2,199.2 343.3,189.5 341.7,185.5 341.1,179.5 342.1,169.5 341.2,166.5 339.2,164.3 337.2,163.5 331.2,163.3 327.2,162.1 325.2,159.8 324.6,157.5 324.8,155.5 325.9,153.5 328.9,151.5 333.2,150.1 335.2,147.8 337.1,139.6 342.5,129.6 342.6,125.6 340.6,121.6 337.2,119.2 329.2,118.8 325.2,117.1 323.0,113.6 323.7,111.7 326.9,109.7 337.2,106.6 349.2,98.6 353.2,97.3 367.2,96.6 369.8,97.7 373.1,101.8 375.1,102.9 377.1,101.9 381.2,97.7 385.1,95.6 391.1,94.6 401.1,95.1 413.1,90.8 417.0,91.6 425.0,96.4 429.0,96.8 431.0,96.1 433.9,93.7 438.6,85.7 442.2,81.7 451.9,73.7 461.0,67.8 466.9,62.4 470.9,60.4 478.9,59.9 482.7,57.8 485.1,53.8 489.0,41.8 492.9,35.3 496.9,32.3 502.9,29.3 509.3,23.9 518.8,21.0 522.8,18.7 527.0,13.9 532.8,3.9 555.7,-14.0 558.7,-18.5ZM231.1,119.6 233.4,118.0 235.4,117.8 237.5,119.6 235.9,127.6 240.2,139.6 239.8,141.6 236.3,145.6 229.5,149.8 211.8,155.5 209.6,161.5 207.5,162.9 205.5,163.3 197.5,162.2 189.5,163.0 179.6,163.0 175.6,166.0 169.6,173.9 165.6,176.4 161.6,175.7 153.6,171.5 151.6,171.6 147.6,173.3 142.3,177.5 141.0,179.5 143.9,185.5 144.7,191.4 143.6,195.6 139.6,205.1 137.7,206.8 113.7,208.4 99.7,211.5 89.8,211.7 85.8,211.0 82.2,209.4 79.8,207.3 77.2,203.4 74.8,197.4 73.4,191.4 73.1,185.5 73.8,181.5 75.8,177.1 79.8,172.0 85.8,172.6 87.9,171.5 87.8,169.3 85.8,168.1 82.3,169.5 81.8,170.4 79.8,170.3 77.8,165.5 79.8,162.4 81.8,161.6 87.8,162.6 99.7,158.0 105.7,158.5 109.2,161.5 110.9,165.5 111.1,177.5 111.7,180.3 113.7,183.8 115.7,185.1 117.7,185.2 131.5,181.5 136.2,179.5 136.4,177.5 131.7,172.1 129.7,167.5 129.7,159.5 131.4,153.5 133.7,150.6 143.6,143.1 151.6,132.1 153.6,130.7 159.6,132.3 162.7,135.6 163.4,147.6 164.2,149.6 165.6,150.8 169.6,150.3 181.6,142.9 185.5,142.4 187.5,143.4 193.5,150.0 199.5,154.8 203.5,155.9 207.5,155.6 209.5,154.4 209.8,153.5 208.3,149.6 203.8,143.6 195.6,135.6 195.1,133.6 196.8,129.6 199.5,127.2 205.5,125.1 211.5,125.2 219.5,127.5 223.5,127.1 227.5,124.7ZM281.1,133.6 285.3,131.9 289.3,132.0 293.7,133.6 294.1,135.6 286.8,147.6 283.9,159.5 281.3,161.8 279.3,162.2 277.4,161.6 275.0,159.5 273.4,155.6 273.2,151.5 277.2,139.6 279.3,135.6ZM276.6,175.5 279.3,174.5 281.0,175.5 281.2,177.5 279.3,179.6 276.1,179.5 275.3,177.5ZM310.5,179.5 314.2,179.5 314.1,181.5 312.3,181.5ZM313.5,279.2 315.3,278.4 319.3,278.3 321.5,279.2 323.3,281.2 324.4,285.2 326.1,299.2 325.2,301.7 321.3,302.2 317.3,300.6 315.3,299.1 312.5,295.2 311.0,291.2 310.6,285.2 311.3,282.2Z"/>
<path fill="#f7a98b" fill-rule="evenodd" d="M583.4,-24.0 904.0,-24.0 904.0,430.5 878.1,437.6 852.1,441.2 830.2,447.6 808.2,451.5 778.3,458.7 772.3,459.6 758.3,459.9 744.3,463.5 722.4,464.4 706.4,463.4 690.5,465.5 680.5,466.0 662.5,463.8 630.6,461.8 612.7,456.8 592.7,453.5 564.7,441.0 532.8,428.7 514.8,419.1 496.9,414.3 486.9,410.1 472.9,401.6 460.0,394.9 455.0,391.2 433.2,365.0 423.0,356.3 418.1,345.1 413.3,337.1 411.7,333.1 409.8,321.1 409.5,311.1 408.2,307.2 404.2,301.2 395.8,291.2 389.4,279.2 382.3,269.2 380.8,265.3 381.6,259.3 393.8,241.3 396.8,235.3 399.7,227.4 400.6,219.4 398.3,207.4 398.8,203.4 401.1,199.9 409.1,192.9 415.1,179.1 419.0,174.0 423.0,171.8 427.0,170.9 433.0,171.3 443.0,174.7 449.0,172.9 453.0,169.7 455.8,165.5 458.8,153.5 461.0,150.5 464.9,148.2 472.9,145.6 474.5,143.6 474.9,141.7 475.4,133.6 481.3,123.6 484.3,113.6 485.5,111.7 499.0,99.7 502.5,95.7 508.9,82.9 515.9,73.7 520.7,61.8 523.0,57.8 535.8,45.8 542.8,37.4 550.8,29.3 558.2,19.9 570.4,1.9 577.5,-6.0 580.5,-12.0ZM-24.0,490.7 -24.0,489.0 -22.0,489.4 -3.5,498.7 2.0,502.6 11.9,512.7 17.9,517.0 27.9,520.4 41.9,520.8 47.8,522.2 51.6,524.6 61.8,533.6 69.8,538.6 75.8,541.3 83.8,542.9 99.7,544.4 105.7,543.7 117.7,539.9 123.7,539.0 149.6,540.9 179.6,547.7 187.5,551.6 197.5,558.8 209.5,562.0 215.5,564.9 221.5,570.0 225.5,576.5 235.0,596.4 238.8,610.4 239.1,618.4 236.5,638.3 233.6,648.3 229.7,656.3 225.5,661.3 213.5,671.5 203.5,679.4 197.5,682.9 181.6,689.2 165.6,696.9 157.6,698.9 143.6,699.7 139.6,700.5 133.7,703.3 127.7,707.4 119.7,713.8 116.0,718.1 109.7,729.6 102.8,740.0 95.5,754.0 95.0,756.0 -24.0,756.0ZM548.5,574.5 556.7,572.9 572.7,574.7 586.7,574.1 594.7,574.9 601.7,576.5 620.6,582.8 639.4,590.4 664.5,602.9 673.1,608.4 686.1,620.3 702.0,638.3 718.1,670.2 719.5,676.2 719.4,688.2 722.7,696.2 723.4,700.1 722.4,703.4 720.4,706.0 712.7,712.1 710.4,715.2 702.9,734.1 695.7,746.0 693.1,756.0 484.5,756.0 487.2,734.1 490.6,718.1 492.8,690.2 496.3,674.2 495.4,656.3 496.9,642.3 497.2,630.3 498.0,626.3 504.9,613.8 509.4,598.4 513.2,592.4 518.8,588.4 534.0,580.5ZM900.2,698.1 904.0,697.4 904.0,756.0 807.2,756.0 809.3,748.0 813.1,738.0 816.2,733.1 820.2,729.6 846.5,714.1 854.1,710.4Z"/>
<path fill="#f49a7b" fill-rule="evenodd" d="M603.2,-24.0 904.0,-24.0 904.0,259.5 903.3,263.3 904.0,268.5 904.0,370.2 896.0,372.2 882.0,377.5 870.1,386.2 854.1,395.1 850.1,396.8 838.1,399.9 824.2,407.7 804.2,415.5 790.2,419.9 778.3,422.8 770.3,424.2 742.3,425.8 726.4,428.7 700.4,431.5 688.5,431.2 670.5,429.0 648.6,427.9 628.6,423.7 614.6,420.0 600.7,419.1 596.7,418.2 564.7,404.0 546.8,398.7 508.9,383.3 501.8,379.0 491.3,369.0 475.6,359.0 464.9,346.3 455.0,337.4 447.1,329.1 445.1,325.1 444.4,321.1 444.0,307.2 442.2,287.2 437.8,275.2 438.5,271.2 444.7,257.3 445.7,241.3 447.2,237.3 453.0,227.4 454.4,215.4 455.7,211.4 458.5,207.4 461.0,205.4 472.9,200.9 476.9,198.5 486.0,187.5 488.9,184.9 492.9,182.8 502.9,181.4 506.9,179.6 509.2,177.5 510.8,174.2 511.2,171.5 509.2,159.5 510.3,153.5 512.8,149.0 522.4,141.6 524.7,137.6 525.6,133.6 525.4,123.6 526.0,119.6 531.8,103.7 537.4,93.7 540.0,83.7 550.8,67.8 559.5,57.8 569.1,43.8 578.9,27.9 580.7,23.9 582.8,15.9 584.7,11.9 594.7,4.0 596.2,1.9 597.7,-2.1 599.1,-14.0ZM-24.0,540.6 -24.0,539.6 -22.0,539.9 -12.0,542.2 5.9,548.8 17.9,551.3 21.9,552.9 53.8,573.6 61.8,577.7 75.8,583.5 87.8,592.6 103.7,599.6 106.7,602.4 108.0,606.4 107.3,610.4 104.9,614.4 102.5,616.4 94.9,620.3 91.8,624.3 91.9,636.3 87.3,646.3 83.8,662.2 78.5,672.2 67.8,686.5 59.8,691.7 21.9,707.0 -4.0,713.5 -12.0,714.8 -24.0,715.0ZM587.0,640.3 592.7,639.1 598.7,638.9 604.6,640.1 609.3,642.3 612.6,645.1 615.0,648.3 621.7,662.2 622.8,666.2 623.0,670.2 621.5,676.2 614.6,686.2 610.6,690.3 606.6,692.9 602.6,693.6 594.7,693.1 588.7,692.3 584.7,691.0 578.5,686.2 573.9,678.2 567.7,660.2 566.8,654.3 567.1,650.3 568.7,646.9 572.2,644.3Z"/>
<path fill="#f08a6c" fill-rule="evenodd" d="M620.2,-22.0 620.6,-24.0 904.0,-24.0 904.0,207.4 878.1,216.5 874.1,218.7 871.6,221.4 870.3,225.4 870.4,237.3 868.7,247.3 867.7,261.3 864.3,273.2 862.9,281.2 861.8,283.2 854.1,288.8 852.5,291.2 851.2,295.2 851.7,303.2 855.9,317.1 855.7,323.1 854.1,330.3 852.1,333.8 845.1,341.1 834.2,357.7 828.5,369.0 826.2,372.3 806.2,387.8 800.2,389.6 786.3,389.5 770.3,395.7 754.3,400.3 746.3,401.3 698.4,401.3 682.5,399.2 668.5,400.2 630.6,392.8 611.0,386.9 600.7,380.3 596.7,378.8 582.7,379.4 576.7,377.7 566.7,370.5 564.6,367.0 562.7,361.2 560.7,359.0 556.7,358.4 548.8,361.2 542.8,361.3 537.1,359.0 524.8,351.5 510.8,346.5 498.6,339.1 493.5,335.1 490.8,331.1 488.3,323.1 482.7,315.1 481.7,311.1 483.4,303.2 483.5,299.2 481.4,293.2 471.5,275.2 470.2,267.3 470.5,263.3 471.7,259.3 474.9,254.1 478.9,250.1 498.5,235.3 506.1,227.4 516.8,219.3 526.5,213.4 529.5,209.4 534.9,191.4 536.3,171.5 538.2,167.5 545.2,159.5 547.8,155.5 551.2,141.6 555.6,135.6 557.6,131.6 560.2,121.6 559.1,111.7 565.6,101.7 568.9,85.7 570.7,82.2 576.0,75.7 577.1,67.8 578.5,63.8 586.7,51.9 590.9,41.8 604.5,15.9 614.3,1.9 616.4,-12.0ZM-24.0,584.4 -24.0,582.5 -12.0,582.7 -4.2,584.4 15.9,598.4 17.6,600.4 19.1,604.4 19.7,616.4 23.8,632.3 25.8,652.3 29.9,660.9 37.9,668.5 38.6,672.2 37.5,674.2 35.9,675.5 19.9,680.4 -0.1,681.5 -24.0,685.0Z"/>
<path fill="#e9785d" fill-rule="evenodd" d="M640.4,-22.0 640.6,-24.0 904.0,-24.0 904.0,187.4 898.0,189.1 889.7,195.4 884.0,197.4 870.1,197.1 868.1,196.6 860.1,192.2 854.1,191.5 850.1,193.5 844.1,199.5 838.1,203.7 822.3,209.4 814.2,213.6 810.2,214.4 800.2,213.1 794.2,214.9 789.6,219.4 784.3,228.4 780.3,231.1 764.3,234.6 760.3,234.8 756.3,233.5 754.3,231.8 742.3,216.9 738.4,215.5 724.4,215.3 720.4,214.1 708.4,207.6 704.1,201.4 701.9,199.4 692.1,193.4 684.5,190.1 674.5,189.8 670.5,188.0 664.5,179.6 662.5,178.0 658.5,177.5 646.6,179.2 642.6,178.5 634.0,171.5 622.6,164.9 616.6,159.4 614.6,158.7 606.6,160.7 602.6,160.9 598.7,160.0 594.9,157.5 593.2,155.5 591.7,151.5 592.7,143.3 594.7,139.9 598.7,136.0 600.0,133.6 604.6,121.2 612.6,114.7 614.6,112.3 615.7,109.7 616.2,105.7 616.0,97.7 614.4,83.7 612.2,79.7 604.8,73.7 602.6,70.7 601.1,65.8 601.5,59.8 604.6,53.6 612.6,45.3 622.6,20.7 630.8,9.9 631.9,5.9 631.7,-4.1 632.5,-8.0 638.9,-18.0ZM714.3,257.3 718.4,256.3 722.4,256.2 734.4,256.5 738.4,257.7 740.5,259.3 743.4,263.3 747.9,275.2 749.4,277.2 760.3,282.3 771.7,293.2 782.3,295.9 784.6,297.2 786.3,299.8 786.9,305.2 786.2,309.1 783.9,313.1 778.3,319.5 774.3,322.7 770.3,324.6 764.3,324.3 760.3,325.0 749.5,335.1 748.2,337.1 747.6,341.1 749.6,349.0 749.7,353.0 747.0,357.0 744.3,358.4 738.4,358.4 716.4,352.2 712.4,352.2 704.4,353.9 698.1,353.0 686.5,346.8 680.5,341.7 672.5,333.3 668.5,330.3 660.5,329.4 656.5,327.9 652.5,323.2 650.3,317.1 649.2,311.1 649.0,305.2 649.9,301.2 651.2,299.2 654.5,297.1 658.5,297.0 662.5,299.3 670.5,307.8 674.5,306.2 679.8,301.2 682.1,297.2 682.8,293.2 682.3,285.2 683.2,283.2 686.5,281.3 702.4,275.9 706.4,276.0 709.6,275.2 708.4,273.8 704.4,274.7 702.4,274.5 700.4,272.9 698.4,270.3 697.4,267.3 698.4,263.5 702.4,261.4 708.4,259.9Z"/>
<path fill="#e0654f" fill-rule="evenodd" d="M648.5,-24.0 904.0,-24.0 904.0,155.2 899.3,157.5 886.0,169.0 880.1,171.2 876.1,171.1 872.1,169.2 866.1,158.7 864.1,157.7 860.1,158.2 856.1,160.3 852.9,163.5 850.1,173.3 848.1,176.0 836.7,181.5 833.7,187.5 832.2,188.8 818.2,197.4 812.2,199.2 802.2,197.4 798.2,197.8 794.3,199.4 784.3,205.3 780.3,206.5 774.3,205.9 770.3,203.7 768.0,201.4 762.3,191.6 758.3,188.7 754.3,187.0 750.3,186.0 746.3,186.2 743.9,187.5 740.1,191.4 736.4,193.4 732.4,193.3 726.4,191.0 721.3,187.5 717.2,183.5 716.1,181.5 716.7,175.5 716.2,171.5 714.8,169.5 712.4,168.1 708.4,167.8 704.9,169.5 703.3,171.5 703.1,173.5 704.7,177.5 704.4,179.2 702.4,179.7 697.2,177.5 686.5,170.2 674.5,157.1 664.5,152.2 661.7,149.6 660.6,147.6 660.4,143.6 661.2,141.6 665.7,135.6 667.5,131.6 667.7,127.6 666.5,125.9 662.5,125.0 658.5,125.4 652.5,126.5 644.6,129.4 642.6,128.9 640.0,125.6 634.6,108.2 628.8,99.7 627.5,95.7 627.6,91.7 628.6,89.3 630.6,87.0 636.6,83.6 638.1,81.7 638.5,79.7 636.7,67.8 637.8,63.8 640.7,57.8 641.4,53.8 636.7,45.8 635.2,41.8 634.4,27.9 635.6,23.9 639.8,17.9 641.6,13.9 642.3,7.9 640.7,-2.1 640.9,-6.0 647.5,-18.0Z"/>
<path fill="#d44e41" fill-rule="evenodd" d="M680.3,-24.0 904.0,-24.0 904.0,144.5 902.0,144.8 898.0,147.1 892.1,153.5 888.0,156.7 884.0,158.2 882.0,158.3 880.1,157.5 878.7,155.5 878.1,153.5 878.8,149.6 882.0,145.4 890.5,139.6 891.3,137.6 890.7,135.6 888.2,133.6 886.0,133.1 872.1,134.8 862.1,132.3 860.9,133.6 860.6,141.6 859.1,145.6 855.9,149.6 846.1,158.3 840.1,166.2 836.1,168.7 832.2,169.5 828.2,169.4 820.2,166.9 816.2,167.9 810.7,173.5 805.8,183.5 803.1,185.5 800.2,186.2 795.8,185.5 786.3,179.7 778.3,179.3 776.3,178.1 772.2,169.5 768.3,167.0 762.3,167.3 754.3,171.3 750.3,171.4 738.4,165.6 728.4,165.8 720.4,161.9 713.5,159.5 709.8,157.5 708.3,155.5 707.1,147.6 704.4,145.2 700.4,146.0 698.4,147.9 695.6,153.5 692.8,155.5 688.5,155.9 683.3,153.5 676.7,145.6 673.7,139.6 673.8,133.6 677.4,123.6 676.2,121.6 671.0,119.6 660.5,118.6 656.8,117.6 653.6,115.6 650.3,111.7 649.2,107.7 650.7,99.7 650.7,95.7 647.0,69.8 647.9,63.8 653.5,51.8 652.6,47.8 649.3,41.8 648.8,37.8 654.5,24.1 659.5,7.9 659.6,5.9 658.5,3.5 651.7,-2.1 651.1,-4.1 651.6,-6.0 654.5,-9.4 658.5,-11.9 662.5,-12.3 670.5,-11.5 674.5,-12.1 676.5,-13.1 678.6,-16.0Z"/>
<path fill="#c73635" fill-rule="evenodd" d="M687.3,-24.0 904.0,-24.0 904.0,92.2 902.0,94.0 899.4,101.7 900.0,104.5 901.4,105.7 904.0,106.2 904.0,126.5 892.0,123.7 876.1,126.6 872.1,125.8 864.1,122.0 860.1,121.8 856.1,122.6 852.1,124.5 850.1,126.8 849.8,129.6 851.1,137.6 850.5,141.6 848.1,145.7 844.1,149.3 840.1,151.5 838.1,151.1 834.8,143.6 832.2,142.4 814.8,147.6 810.9,149.6 809.0,151.5 804.7,159.5 802.2,162.4 798.2,164.0 782.3,163.5 772.3,159.7 763.5,157.5 761.7,155.5 761.4,151.5 760.6,149.6 758.7,147.6 754.3,145.6 750.3,145.7 744.3,150.3 740.4,152.3 726.4,153.6 722.4,153.2 718.6,151.5 717.2,149.6 714.4,141.2 712.4,139.0 708.4,137.2 704.4,136.8 698.4,137.9 688.5,144.0 686.5,143.8 684.5,142.5 681.4,137.6 681.9,133.6 684.3,131.6 690.5,129.1 691.8,127.6 692.1,125.6 691.5,123.6 688.5,119.6 684.5,117.1 678.5,115.1 664.5,112.6 662.5,111.7 660.9,109.7 660.4,107.7 661.4,99.7 656.5,91.5 655.1,87.7 652.3,69.8 653.6,63.8 656.5,60.0 658.5,58.6 668.4,55.8 674.5,52.8 680.5,51.6 684.0,49.8 684.2,47.8 682.5,47.5 674.5,48.9 670.5,47.7 666.5,45.0 662.6,39.8 660.9,33.9 661.2,27.9 662.7,23.9 666.5,19.4 680.5,13.5 696.4,20.4 710.4,29.0 712.4,29.5 714.4,28.7 716.6,25.9 717.2,21.9 716.5,19.9 708.9,11.9 706.8,7.9 708.0,-0.1 707.5,-4.1 705.9,-6.0 702.4,-8.3 690.5,-11.8 688.5,-13.3 686.9,-18.0ZM754.3,11.7 744.3,16.4 740.4,19.5 738.6,21.9 737.4,27.9 738.4,31.1 740.4,32.9 744.3,33.4 748.3,32.3 756.3,28.9 759.7,25.9 761.0,21.9 760.2,17.9 756.3,12.3ZM762.3,47.3 761.5,51.8 762.3,56.2 764.3,58.3 766.3,58.6 768.3,57.8 769.4,55.8 769.6,53.8 768.4,49.8 766.3,47.2 764.3,46.2ZM764.3,-2.5 763.5,-2.1 764.3,-0.7 766.2,-0.1 768.6,-2.1ZM808.2,49.7 805.4,51.8 804.7,53.8 804.9,57.8 806.1,61.8 808.2,64.6 818.2,73.0 820.2,72.2 820.4,65.8 817.4,53.8 814.2,50.2 812.2,49.5ZM818.2,78.9 816.2,81.8 815.3,85.7 816.2,88.3 818.2,89.8 820.2,90.0 822.2,88.6 822.3,85.7 820.2,80.1Z"/>
<path fill="#b8122a" fill-rule="evenodd" d="M703.5,-24.0 727.1,-24.0 727.2,-18.0 728.4,-15.6 742.3,-6.9 746.3,-2.7 747.1,1.9 744.5,7.9 730.4,20.8 728.4,21.5 726.4,20.6 714.4,8.7 713.6,3.9 716.0,-4.1 716.1,-6.0 714.4,-8.7 706.4,-13.6 704.0,-16.0 703.2,-18.0ZM757.8,-24.0 800.1,-24.0 800.6,-20.0 802.0,-16.0 806.8,-10.0 806.0,-8.0 800.2,-1.3 796.2,1.2 794.2,0.6 787.0,-6.0 782.3,-9.0 778.3,-10.6 770.3,-12.1 766.0,-14.0 762.0,-18.0ZM813.9,-22.0 814.2,-24.0 904.0,-24.0 904.0,76.2 902.0,77.3 900.5,79.7 894.0,95.0 886.7,107.7 884.0,113.6 882.0,115.8 880.1,116.5 877.8,115.6 874.1,105.9 872.1,103.9 870.1,103.3 868.1,105.2 867.0,109.7 864.1,112.8 857.4,115.6 846.1,118.3 842.1,119.9 830.2,130.5 824.2,138.2 820.2,140.6 810.2,142.5 806.2,144.3 800.2,152.5 796.2,155.4 790.2,156.4 783.7,155.5 776.3,152.3 761.9,143.6 752.3,140.6 746.3,141.1 734.4,147.0 730.4,147.6 726.4,146.8 724.4,145.3 720.0,137.6 716.4,134.1 702.4,126.2 688.5,114.6 675.6,107.7 674.3,105.7 672.5,96.7 670.5,92.2 662.5,85.7 661.3,75.7 660.1,71.8 660.4,67.8 662.5,67.0 664.5,67.6 666.1,69.8 667.3,77.7 670.5,83.9 672.5,85.1 674.5,85.2 680.5,84.5 684.5,84.8 688.5,87.2 694.5,94.6 696.4,95.7 700.6,95.7 704.1,93.7 706.0,89.7 705.7,83.7 704.1,77.7 702.4,74.8 699.1,71.8 685.9,65.8 684.8,63.8 685.5,61.8 687.2,59.8 698.7,51.8 704.1,45.8 706.4,44.4 724.4,40.5 730.4,43.1 732.4,43.2 750.3,39.2 752.7,39.8 754.3,42.0 755.4,49.8 755.5,59.8 756.0,61.8 757.6,63.8 762.3,65.9 774.3,68.6 778.3,71.8 784.3,78.2 788.2,80.8 792.2,81.6 800.2,80.0 802.2,81.9 808.0,93.7 812.2,96.7 818.2,98.4 824.2,99.0 828.2,98.8 831.6,97.7 833.6,95.7 834.0,93.7 829.5,83.7 828.6,79.7 830.7,67.8 830.7,61.8 831.5,57.8 838.1,46.7 843.7,33.9 846.1,31.7 854.9,27.9 856.6,25.9 857.1,21.9 854.2,17.9 848.1,14.7 840.1,8.2 836.1,7.5 828.2,7.6 824.2,6.4 818.2,-0.6 809.2,-8.0 808.4,-10.0ZM742.3,84.5 740.4,86.2 738.8,89.7 739.4,91.7 740.4,92.1 744.7,91.7 747.4,89.7 748.2,87.7 746.3,84.8 744.3,84.1ZM786.3,101.2 784.3,103.3 783.2,105.7 782.7,113.6 784.7,119.6 789.8,127.6 792.2,129.3 796.2,129.6 802.2,128.7 806.2,126.6 809.8,121.6 810.3,119.6 809.9,117.6 808.1,115.6 798.9,109.7 792.2,102.1 790.2,100.7 788.2,100.4ZM794.0,9.9 796.2,8.4 800.2,8.7 813.5,13.9 815.9,15.9 816.5,17.9 814.8,27.9 814.8,35.8 813.1,37.8 810.2,39.4 804.2,41.0 800.2,40.7 792.2,38.0 788.2,37.9 785.3,39.8 780.3,45.9 778.3,46.4 776.3,45.6 767.8,37.8 765.9,33.9 766.5,29.9 769.3,21.9 769.5,13.9 770.7,11.9 772.3,11.1 776.3,10.9 780.3,12.4 786.3,17.8 788.2,16.7ZM672.4,25.9 678.5,25.0 686.5,26.3 690.7,27.9 692.8,29.9 693.0,31.9 690.5,34.8 686.5,36.9 682.5,37.6 676.5,36.6 672.5,34.5 670.3,31.9 670.3,27.9Z"/>
<use href="#bd" transform="scale(0.99955 1.00054)"/>
</g>
<rect x="0" y="0" width="879.6" height="734.9" fill="none" stroke="#000" stroke-width="3.9"/>
<path d="M0.0 734.9 V755.5 M146.6 734.9 V755.5 M293.2 734.9 V755.5 M439.8 734.9 V755.5 M586.4 734.9 V755.5 M733.0 734.9 V755.5 M879.6 734.9 V755.5 M0 0.0 H-20.6 M0 147.0 H-20.6 M0 294.0 H-20.6 M0 440.9 H-20.6 M0 587.9 H-20.6 M0 734.9 H-20.6" stroke="#000" stroke-width="3.9" fill="none"/>
<text class="k" x="0.0" y="791.5" text-anchor="middle">113°E</text>
<text class="k" x="146.6" y="791.5" text-anchor="middle">114°E</text>
<text class="k" x="293.2" y="791.5" text-anchor="middle">115°E</text>
<text class="k" x="439.8" y="791.5" text-anchor="middle">116°E</text>
<text class="k" x="586.4" y="791.5" text-anchor="middle">117°E</text>
<text class="k" x="733.0" y="791.5" text-anchor="middle">118°E</text>
<text class="k" x="879.6" y="791.5" text-anchor="middle">119°E</text>
<text class="k" x="-34.6" y="9.7" text-anchor="end">42°N</text>
<text class="k" x="-34.6" y="156.7" text-anchor="end">41°N</text>
<text class="k" x="-34.6" y="303.7" text-anchor="end">40°N</text>
<text class="k" x="-34.6" y="450.6" text-anchor="end">39°N</text>
<text class="k" x="-34.6" y="597.6" text-anchor="end">38°N</text>
<text class="k" x="-34.6" y="744.6" text-anchor="end">37°N</text>
</g>
<text class="t" x="119.3" y="2200.8">(e) DA_2step_wv12</text>
<g transform="translate(1223.8 2234.0)">
<g clip-path="url(#cpf)">
<rect width="879.8" height="734.9" fill="#f1cdba"/>
<rect width="879.8" height="734.9" fill="#ead5c9"/>
<path fill="#f1cdba" fill-rule="evenodd" d="M-24.0,-24.0 148.8,-24.0 149.6,-21.9 153.6,-17.9 155.6,-16.9 157.6,-16.9 161.6,-18.8 164.6,-22.0 165.2,-24.0 203.9,-24.0 207.4,-16.0 210.2,-6.0 211.5,-4.1 213.5,-4.5 219.5,-8.0 227.5,-15.4 241.4,-18.2 243.7,-20.0 245.5,-24.0 271.9,-24.0 271.6,-18.0 272.2,-14.0 275.4,-9.2 279.3,-7.0 289.3,-4.6 297.3,0.1 301.3,0.9 315.3,-1.0 319.3,-3.1 327.2,-10.3 333.2,-13.0 335.2,-13.1 341.2,-11.5 353.2,-13.2 367.2,-11.4 371.1,-12.5 381.1,-18.1 387.1,-18.9 391.3,-18.0 394.6,-16.0 399.3,-10.0 402.4,-8.0 417.0,-2.6 429.0,4.2 433.0,5.7 437.0,6.2 439.8,3.9 440.6,-0.1 439.7,-6.0 436.6,-14.0 436.2,-24.0 904.0,-24.0 904.0,756.0 -24.0,756.0ZM191.5,348.4 186.7,353.0 185.5,355.0 185.5,357.7 187.0,359.0 189.5,359.3 199.5,356.8 201.0,355.0 200.8,353.0 198.4,349.0 195.5,347.3Z"/>
<path fill="#f5c2aa" fill-rule="evenodd" d="M498.7,-22.0 499.2,-24.0 904.0,-24.0 904.0,756.0 358.0,756.0 355.8,754.0 343.2,750.8 331.2,745.3 326.5,744.0 321.3,743.6 315.3,744.1 310.4,746.0 300.5,754.0 299.4,756.0 -24.0,756.0 -24.0,387.4 -21.9,386.9 -16.0,382.9 -12.0,381.5 -8.0,381.8 -0.1,383.8 2.9,385.0 3.9,386.4 4.0,388.9 2.8,390.9 -6.0,400.8 -12.0,400.1 -16.0,401.2 -17.4,402.9 -17.2,404.9 -14.0,406.3 -9.1,404.9 -6.0,401.1 1.9,401.9 6.5,400.9 9.6,398.9 13.9,393.8 15.9,394.0 16.6,396.9 16.1,402.9 17.9,407.0 21.9,408.8 27.9,409.5 37.9,411.9 39.9,411.6 41.9,410.2 45.8,400.8 48.7,398.9 52.1,398.9 55.6,400.9 57.3,402.9 63.9,418.9 67.8,423.2 75.8,425.3 93.7,426.1 95.7,427.6 100.6,434.8 103.3,436.8 125.7,445.7 129.0,448.8 134.6,456.8 137.7,458.0 141.6,457.9 144.3,456.8 145.5,454.8 146.4,448.8 149.6,443.0 155.1,438.8 171.6,432.5 181.6,432.2 195.5,433.6 199.5,433.2 203.5,431.3 206.4,428.8 209.6,424.8 212.9,418.9 215.5,416.5 228.1,410.9 263.4,399.3 267.4,397.0 274.7,388.9 283.3,384.7 285.6,383.0 286.8,381.0 289.3,369.8 294.8,359.0 298.1,351.0 300.0,341.1 299.3,333.2 297.6,329.1 295.6,327.1 293.3,326.1 283.3,323.5 277.9,319.1 274.3,313.1 270.5,301.2 265.4,292.2 241.4,267.5 237.4,265.2 227.5,264.3 219.0,261.3 212.1,257.3 205.6,251.3 201.5,249.9 197.5,249.9 194.7,251.3 193.0,253.3 187.5,264.0 183.6,267.7 181.6,268.3 177.6,267.6 171.6,264.8 159.6,263.2 149.6,256.6 146.3,255.3 131.7,254.3 121.7,251.9 109.7,253.2 103.7,255.2 93.1,261.3 90.8,263.3 86.4,269.2 83.8,270.6 79.8,269.1 75.0,265.3 69.8,259.1 65.8,257.2 61.8,257.8 49.8,261.3 39.9,261.1 35.9,261.8 30.4,265.3 25.9,272.5 23.9,272.8 15.9,268.6 5.9,265.2 -6.0,259.8 -10.0,259.2 -16.0,259.6 -24.0,258.3 -24.0,99.6 -22.0,99.0 -18.0,95.4 -15.7,91.7 -14.5,87.7 -14.7,83.7 -16.6,77.7 -14.8,67.8 -17.6,51.8 -16.8,43.8 -14.9,39.8 -12.0,38.0 -10.0,38.3 2.5,49.8 6.2,55.8 9.0,67.8 9.9,69.4 11.9,70.1 13.9,69.2 16.3,65.8 18.8,49.8 22.3,43.8 25.9,41.0 29.9,39.5 45.8,37.3 51.0,37.8 59.8,40.5 71.8,38.6 76.5,39.8 83.8,43.4 93.7,47.2 107.7,47.8 111.7,49.4 119.7,56.7 121.7,57.4 123.7,57.0 131.7,51.6 137.7,49.4 141.6,48.9 149.6,49.8 159.6,49.7 163.6,51.0 173.5,55.8 185.4,59.8 193.5,66.2 197.5,68.4 201.5,67.9 209.5,61.7 213.5,60.4 217.5,60.8 225.5,65.8 229.5,66.5 239.4,61.8 249.4,58.8 259.4,51.6 263.4,50.7 279.3,49.9 289.3,51.6 299.3,50.9 301.3,51.8 306.2,57.8 309.3,59.7 321.3,63.2 331.2,68.4 335.2,68.5 339.2,66.8 344.7,59.8 347.2,57.7 351.2,56.5 355.2,56.3 373.1,57.4 377.1,59.8 381.1,64.4 385.4,67.8 389.1,69.7 393.1,70.1 397.1,68.0 403.1,61.8 407.1,59.8 421.0,56.6 433.0,56.4 451.0,53.9 456.9,51.8 459.7,49.8 463.1,45.8 467.4,37.8 470.5,25.9 471.9,23.9 478.9,18.1 483.1,11.9 490.5,-2.1 494.2,-14.0ZM-4.0,225.2 -4.8,225.4 -8.0,227.4 -6.0,227.9 -2.4,227.4 -2.5,225.4ZM-24.0,333.1 -24.0,332.4 -22.0,332.6 -18.0,334.1 -16.4,335.1 -15.4,337.1 -16.5,341.1 -18.9,345.1 -22.0,347.9 -24.0,348.4Z"/>
<path fill="#f7b79b" fill-rule="evenodd" d="M516.8,-22.0 516.9,-24.0 904.0,-24.0 904.0,464.1 878.1,467.5 846.1,477.2 800.2,486.4 780.3,493.9 758.3,498.2 746.3,499.2 740.4,500.8 716.4,512.5 710.4,516.6 708.4,519.3 707.2,522.6 706.4,534.6 707.1,540.6 708.4,544.5 718.4,564.5 724.4,573.0 740.4,592.7 752.3,602.9 770.3,620.2 812.2,644.8 822.2,647.8 832.2,649.2 840.1,649.5 858.1,647.2 904.0,639.3 904.0,756.0 422.7,756.0 421.0,750.0 418.2,744.0 411.5,736.1 405.7,732.1 387.5,724.1 379.6,722.1 367.2,720.6 329.2,718.8 305.3,722.4 285.8,728.1 281.3,730.0 270.0,738.0 260.2,746.0 255.4,752.1 253.9,756.0 -24.0,756.0 -24.0,443.7 -16.0,449.2 -4.0,451.8 5.0,458.8 23.9,467.5 39.9,472.3 47.8,480.3 63.8,487.9 79.8,492.1 83.8,492.0 87.8,490.7 91.8,488.0 97.7,480.2 101.7,476.8 105.7,475.8 115.7,475.4 119.7,476.4 122.6,478.7 123.9,482.7 123.9,488.7 125.7,492.6 127.7,493.9 131.7,494.5 138.3,492.7 147.6,486.9 153.6,485.5 165.6,485.4 175.6,484.4 187.5,486.0 191.5,485.7 195.5,484.2 217.5,470.3 223.5,467.8 227.5,467.8 235.4,470.3 243.4,469.1 251.4,465.9 263.4,458.3 287.3,450.4 308.6,438.8 316.8,432.8 320.7,428.8 327.2,419.8 339.2,411.4 341.2,407.9 343.2,398.9 345.2,394.9 349.2,391.0 357.2,385.6 359.2,383.3 365.4,365.0 368.3,345.1 367.4,341.1 363.4,331.1 362.9,325.1 363.5,311.1 362.0,305.2 359.2,299.4 357.2,296.8 353.2,293.4 343.2,288.4 339.2,288.4 335.2,290.3 331.2,289.9 328.1,287.2 326.6,283.2 333.2,268.9 339.2,262.4 341.2,259.3 341.5,255.3 337.4,243.3 336.9,231.3 336.0,227.4 321.5,211.4 319.1,207.4 319.0,205.4 319.6,203.4 325.2,197.1 330.2,189.5 339.2,184.9 343.2,180.6 347.2,172.3 347.5,165.5 345.2,162.8 343.2,162.3 339.2,163.8 336.1,167.5 332.2,179.5 329.1,185.5 326.3,187.5 315.3,190.3 311.3,189.3 309.3,187.8 303.3,180.1 299.3,176.9 295.3,174.9 285.3,171.9 281.8,169.5 279.4,165.5 279.2,161.5 280.0,159.5 286.1,153.5 289.6,141.6 293.2,135.6 293.3,125.6 296.4,115.6 299.6,111.7 309.3,107.2 313.3,101.2 315.3,99.3 331.2,97.4 341.2,97.2 347.2,98.7 365.3,109.7 379.1,110.8 395.1,114.2 405.1,121.6 411.3,123.6 418.5,125.6 433.0,128.1 437.0,127.6 441.0,125.5 451.0,116.9 454.8,111.7 457.2,97.7 464.1,79.7 474.9,68.2 488.9,50.3 497.5,41.8 500.3,37.8 510.1,11.9 516.4,-0.1 516.8,-4.1 516.1,-14.0ZM371.1,136.2 369.8,137.6 369.2,139.6 369.5,141.6 371.1,143.8 373.1,143.7 375.2,141.6 375.2,139.6 373.1,136.8ZM242.6,109.7 245.4,108.4 249.4,108.6 259.4,114.0 263.4,114.9 275.4,112.1 277.4,112.7 280.5,115.6 285.9,125.6 286.7,129.6 286.4,133.6 284.0,139.6 273.4,151.7 271.4,153.0 267.4,153.9 257.4,152.4 249.4,153.3 235.4,153.2 231.4,151.9 221.5,144.8 217.5,143.2 213.5,142.7 209.5,143.7 207.5,146.0 203.9,155.5 201.5,157.8 197.5,159.5 191.5,160.3 187.5,159.6 183.9,157.5 180.4,153.5 177.7,147.6 177.3,141.6 178.9,135.6 181.6,132.9 187.5,129.9 204.1,123.6 217.5,113.9 221.5,114.0 227.5,117.0 231.4,118.1 235.4,116.1ZM152.4,153.5 155.6,153.1 157.8,153.5 159.6,154.9 160.8,157.5 160.0,159.5 155.6,161.9 151.6,162.1 149.6,161.3 148.6,159.5 148.7,157.5 149.6,155.5ZM120.8,161.5 123.7,160.8 126.6,161.5 130.6,165.5 130.9,167.5 125.7,170.2 123.7,172.1 117.7,180.2 113.7,182.4 111.7,182.3 108.4,175.5 107.9,171.5 108.5,169.5 112.7,165.5ZM87.1,163.5 89.8,163.2 92.8,165.5 99.7,178.9 103.7,183.1 107.6,185.5 108.7,187.5 108.4,189.5 107.0,191.4 97.7,196.3 89.8,203.1 85.8,205.1 83.8,204.4 82.0,201.4 81.7,189.5 82.4,183.5 84.5,175.5 85.1,167.5 85.8,164.9ZM137.4,169.5 139.6,168.9 141.6,169.2 142.2,171.5 139.6,171.8ZM113.7,199.4 115.7,198.1 119.7,198.6 121.7,200.3 123.5,203.4 124.8,209.4 123.7,212.2 121.7,213.9 117.7,215.0 115.7,214.7 113.0,213.4 111.5,211.4 111.5,205.4Z"/>
<path fill="#f7a98b" fill-rule="evenodd" d="M550.7,-24.0 904.0,-24.0 904.0,428.0 888.0,431.8 872.1,433.7 858.1,437.2 834.2,447.0 826.2,449.0 814.2,450.3 800.2,454.9 788.2,456.8 772.3,457.3 752.3,461.3 728.4,462.5 706.4,465.0 686.5,466.4 660.5,465.9 646.6,467.0 632.6,466.3 628.6,467.0 620.6,470.2 616.6,471.1 610.6,469.3 600.2,462.8 594.7,460.4 588.7,460.2 578.7,462.7 568.7,462.4 564.7,464.3 556.7,471.2 546.3,474.7 543.4,478.7 543.1,484.7 546.7,492.7 550.8,497.2 558.7,502.8 564.7,509.3 578.7,518.3 590.7,520.6 594.0,522.6 606.6,537.2 620.6,545.6 632.2,556.5 654.5,571.7 668.5,583.2 678.5,589.3 684.5,593.8 693.5,602.4 702.9,614.4 712.4,622.6 717.0,628.3 726.0,644.3 729.4,652.3 735.9,678.2 738.4,694.2 737.9,698.1 736.4,702.2 728.4,712.8 724.2,720.1 721.5,728.1 718.8,744.0 713.3,754.0 712.8,756.0 461.1,756.0 460.4,754.0 453.0,742.7 450.2,736.1 449.0,730.1 448.7,720.1 447.2,714.1 443.0,707.4 437.0,701.9 429.0,699.3 395.1,694.4 337.2,690.4 325.2,691.3 299.3,697.0 283.3,702.8 257.4,709.5 227.5,719.6 213.5,722.1 207.5,724.9 203.5,727.8 199.5,732.4 193.5,741.4 186.5,748.0 180.8,756.0 -24.0,756.0 -24.0,469.4 11.9,480.2 21.9,487.3 31.9,491.8 42.4,498.7 53.8,503.4 68.8,506.6 72.3,508.6 79.8,515.4 83.8,517.1 105.7,517.8 121.0,520.6 133.7,521.8 153.6,520.1 169.6,516.7 187.5,514.5 201.5,517.9 211.5,519.0 215.5,518.1 217.5,516.7 222.1,510.6 225.5,508.3 229.5,508.1 235.4,511.8 239.4,512.6 249.4,508.6 265.4,508.9 277.4,505.3 287.3,503.3 301.3,496.7 317.3,492.8 339.2,491.5 349.2,489.8 363.2,483.7 379.1,479.2 391.1,474.5 397.8,470.7 409.1,461.5 415.1,458.2 421.0,457.0 433.0,460.1 437.0,459.7 445.0,455.6 449.7,450.8 454.6,440.8 454.9,436.8 454.2,434.8 449.2,426.8 444.8,414.9 425.0,387.6 420.3,379.0 418.3,373.0 416.7,365.0 415.0,347.0 414.0,343.1 408.4,329.1 402.7,319.1 401.6,315.1 403.0,301.2 399.2,287.2 399.0,269.2 401.2,255.3 400.3,239.3 404.3,227.4 404.2,223.4 403.1,221.1 397.1,221.1 393.1,219.6 381.1,206.6 379.3,203.4 379.2,201.4 381.1,199.1 383.1,198.3 387.1,198.2 391.1,200.0 395.1,204.8 399.1,208.0 401.1,208.6 403.1,208.0 415.1,195.5 425.0,191.5 429.0,188.2 440.2,173.5 447.0,161.9 464.7,141.6 466.8,137.6 470.3,127.6 477.7,115.6 484.3,101.7 497.0,89.7 500.3,85.7 501.3,81.7 499.9,69.8 501.4,65.8 504.9,62.4 514.8,58.4 516.8,56.9 524.3,45.8 532.0,27.9 534.4,13.9 536.5,9.9 541.1,3.9 543.0,-0.1 541.7,-12.0 544.2,-16.0 549.9,-22.0ZM901.9,672.2 904.0,671.6 904.0,756.0 782.9,756.0 784.5,748.0 790.2,738.5 797.3,732.1 814.2,719.4 838.1,706.4 854.7,696.2 866.1,691.1 878.1,684.1Z"/>
<path fill="#f49a7b" fill-rule="evenodd" d="M579.5,-24.0 904.0,-24.0 904.0,257.5 903.4,259.3 904.0,261.8 904.0,374.8 896.0,379.3 882.0,384.9 873.7,392.9 868.0,396.9 862.1,398.6 848.1,399.5 842.1,400.7 812.2,415.2 802.2,419.0 782.3,420.4 766.3,424.2 748.3,426.2 734.4,426.3 720.4,427.4 702.4,427.0 678.5,427.9 667.0,426.8 650.5,422.5 634.6,423.4 573.0,410.9 554.8,405.5 542.8,401.0 528.8,398.3 512.8,393.6 470.9,376.6 466.9,375.5 455.0,374.1 451.0,372.5 449.0,370.7 445.9,365.0 443.3,357.0 442.7,343.1 439.1,327.1 439.3,319.1 443.0,309.1 443.6,305.2 442.2,301.2 438.6,295.2 437.3,289.2 438.3,279.2 438.0,269.2 441.0,261.3 443.7,245.3 445.3,241.3 447.9,237.3 454.3,231.3 457.5,227.4 461.9,213.4 473.8,191.4 476.9,178.9 480.9,176.0 488.9,174.6 492.9,172.3 494.9,169.5 497.3,161.5 498.9,159.1 502.9,156.1 512.8,151.2 517.1,147.6 526.5,129.6 530.4,119.6 537.3,83.7 540.2,73.7 544.2,63.8 557.1,37.8 558.7,31.9 560.1,17.9 566.7,3.9 569.9,-10.0 578.1,-20.0ZM3.9,512.6 7.9,513.5 15.9,517.9 27.9,520.9 38.7,528.6 47.8,533.1 53.3,538.6 55.8,540.2 63.8,541.8 70.8,544.5 73.8,543.9 76.6,538.6 79.8,536.0 85.5,534.6 95.7,533.6 99.7,534.8 105.7,541.6 107.7,542.5 111.7,542.4 121.7,537.5 125.7,536.9 141.6,539.8 155.6,545.3 163.6,547.6 167.6,547.4 175.6,544.0 179.6,543.2 183.6,544.3 189.5,547.3 199.5,550.2 209.5,555.1 215.5,556.1 229.5,553.9 241.4,556.9 247.4,557.6 269.4,558.0 293.3,556.2 309.3,557.9 319.3,557.8 347.2,553.1 363.2,548.1 379.1,546.2 401.1,539.3 411.1,538.4 425.0,539.5 439.0,536.3 445.0,537.0 476.9,544.4 500.9,553.7 520.8,559.2 544.8,573.6 558.7,578.9 580.7,590.8 595.1,600.4 610.6,608.6 631.3,622.3 647.2,636.3 652.8,646.3 661.2,658.3 662.6,662.2 665.2,676.2 665.4,680.2 664.6,684.2 656.8,702.1 649.7,712.1 644.5,722.1 628.8,744.0 627.8,748.0 628.7,756.0 499.9,756.0 496.9,750.0 482.0,730.1 477.6,726.1 468.9,720.0 463.6,714.1 456.6,700.1 451.3,682.2 448.2,678.2 443.0,674.2 423.0,664.8 399.1,658.2 393.1,657.5 375.1,657.9 357.2,656.8 343.2,653.8 337.2,653.2 329.2,654.1 315.3,657.7 299.3,660.0 265.4,675.6 259.4,677.1 233.4,680.4 229.1,682.2 219.5,688.0 203.5,693.7 191.5,696.2 181.6,699.4 167.6,700.6 163.5,702.1 155.6,707.5 143.6,712.9 139.6,714.0 131.7,714.4 125.7,716.4 121.7,718.6 117.7,722.1 109.2,736.1 109.9,740.0 114.3,750.0 115.4,756.0 -24.0,756.0 -24.0,515.5 -14.0,518.8 -10.0,519.2 -6.0,518.0ZM97.7,560.2 91.8,564.9 85.1,568.5 83.9,570.5 84.7,572.5 89.8,573.8 95.7,573.5 101.7,572.7 106.0,570.5 108.7,566.5 107.7,562.5 105.7,560.5 101.7,558.8Z"/>
<path fill="#f08a6c" fill-rule="evenodd" d="M598.9,-24.0 904.0,-24.0 904.0,210.3 899.4,211.4 894.0,213.8 882.0,223.7 878.6,227.4 877.0,231.3 875.8,237.3 875.5,247.3 873.5,251.3 870.1,253.8 860.1,257.3 854.1,260.5 849.9,263.3 846.9,267.3 848.1,271.2 858.0,281.2 863.2,295.2 863.6,299.2 856.4,311.1 850.1,316.9 844.1,319.0 834.2,317.1 831.2,319.1 830.8,321.1 831.6,323.1 834.2,325.9 844.1,332.5 856.1,335.6 858.1,337.5 858.4,341.1 852.8,349.0 848.8,357.0 846.1,360.6 843.2,363.0 836.0,367.0 828.2,375.0 824.2,376.9 814.2,379.7 804.2,386.4 800.2,388.2 776.3,394.2 760.3,393.7 750.3,392.0 744.3,391.9 728.4,396.4 718.4,396.4 702.4,398.4 682.5,397.3 656.5,392.4 642.6,394.4 637.3,392.9 628.6,387.8 624.6,387.0 616.6,386.7 612.6,385.4 604.6,379.6 600.7,377.5 596.7,377.4 588.7,379.7 582.7,379.5 572.7,376.4 560.7,369.8 548.8,367.5 538.8,363.5 522.8,360.0 514.8,359.9 510.0,359.0 490.3,347.0 481.9,335.1 480.6,331.1 483.0,323.1 482.9,319.1 478.9,310.5 478.4,297.2 473.9,289.2 473.4,285.2 474.5,281.2 479.7,273.2 480.9,269.4 478.6,253.3 480.1,247.3 484.0,239.3 485.8,225.4 491.8,215.4 498.9,201.2 502.9,195.1 514.8,184.8 524.0,171.5 536.3,161.5 538.2,157.5 540.6,145.6 545.9,135.6 550.2,131.6 557.6,127.6 560.7,123.8 561.7,117.6 559.5,105.7 560.2,95.7 558.3,81.7 558.9,73.7 561.5,67.8 570.7,53.7 574.7,49.9 580.6,45.8 581.6,43.8 581.8,39.8 579.5,25.9 579.9,19.9 585.9,5.9 589.2,1.9 596.7,-5.0 600.1,-10.0 600.9,-14.0ZM640.6,199.4 622.6,206.7 618.6,209.0 616.1,211.4 608.6,222.1 606.6,222.5 601.7,217.4 598.7,215.6 596.7,215.7 594.7,217.7 593.8,223.4 593.9,235.3 594.7,239.9 596.7,241.3 600.4,233.3 602.6,230.1 606.6,226.0 608.6,226.7 612.6,233.4 614.6,239.3 614.8,247.3 612.8,255.3 613.0,257.3 614.6,259.3 618.6,260.0 620.6,259.3 622.6,257.0 627.5,247.3 630.6,244.4 634.6,242.5 638.6,242.2 642.6,243.5 652.5,251.9 658.5,253.9 664.5,252.6 674.5,245.6 678.5,244.5 682.5,244.5 696.4,247.2 700.4,248.8 702.4,250.3 704.6,253.3 706.3,257.3 708.0,269.2 709.5,273.2 718.4,283.7 720.4,285.2 724.4,285.3 732.4,282.3 738.4,282.1 746.3,283.9 760.3,289.2 766.3,290.4 772.3,289.6 776.3,288.0 779.8,285.2 781.2,283.2 782.7,277.2 781.6,271.2 774.3,262.8 769.0,255.3 766.4,253.3 754.3,252.0 724.4,244.6 716.4,241.2 706.4,233.7 702.4,232.0 698.4,231.9 690.5,235.0 688.5,235.1 686.5,233.6 683.0,225.4 679.9,221.4 668.5,216.1 660.7,207.4 654.5,203.2 646.6,199.9ZM-24.0,544.5 -24.0,544.0 -22.0,544.3 -12.0,547.9 -0.1,549.0 11.9,544.8 27.9,544.4 31.9,544.9 35.9,547.1 43.7,554.5 61.8,567.3 73.9,580.5 79.8,583.2 99.7,586.1 105.7,586.3 115.7,584.7 125.7,584.5 139.6,578.8 161.6,580.3 171.6,577.9 177.6,577.7 187.5,579.2 199.5,585.6 219.5,590.6 223.5,592.6 227.3,596.4 231.1,606.4 233.5,610.4 235.9,612.4 243.9,616.4 247.9,620.3 249.7,624.3 251.0,632.3 251.3,640.3 250.4,644.3 247.3,648.3 237.4,654.9 225.5,660.4 217.5,665.3 207.5,668.4 195.5,668.2 189.5,669.4 185.5,672.0 181.6,678.2 179.6,680.1 175.6,681.2 171.6,680.2 166.3,676.2 160.8,670.2 160.8,668.2 163.0,662.2 161.6,654.3 162.1,652.3 163.6,650.9 169.6,649.0 173.6,646.6 176.8,642.3 179.0,636.3 179.8,628.3 181.7,622.3 181.4,620.3 176.1,606.4 173.0,602.4 165.6,597.8 161.6,597.0 157.6,597.9 154.6,600.4 151.6,607.2 149.3,610.4 141.6,618.8 131.7,626.0 130.0,630.3 131.1,634.3 134.4,640.3 139.2,652.3 147.6,662.9 154.7,668.2 154.5,670.2 149.6,671.5 141.6,668.8 137.7,668.8 123.7,672.1 121.7,673.3 118.5,678.2 114.7,682.2 103.7,689.2 97.7,690.6 85.8,690.7 79.8,696.0 69.8,697.5 65.8,699.8 55.8,710.0 51.8,712.7 43.9,716.6 41.9,718.2 39.3,722.1 35.9,730.1 35.2,734.1 36.6,756.0 -24.0,756.0 -24.0,567.8 -22.0,567.3 -18.6,564.5 -16.1,560.5 -16.1,558.5 -18.0,556.3 -24.0,555.7ZM474.3,606.4 476.9,605.6 480.9,605.6 494.9,608.8 506.9,609.0 520.8,613.1 532.8,612.7 536.8,613.6 546.8,617.9 558.7,617.7 566.2,620.3 588.7,635.2 592.7,638.8 596.7,644.3 599.2,650.3 599.8,656.3 598.9,664.2 596.9,670.2 585.0,684.2 578.7,687.9 560.7,693.7 536.8,697.3 525.3,700.1 518.8,699.1 514.8,695.9 509.8,686.2 504.9,680.8 498.9,677.9 480.9,674.1 476.9,671.6 461.7,658.3 455.7,650.3 447.0,630.8 439.5,618.4 438.6,612.4 439.0,610.1 441.0,607.7 443.0,607.9 453.0,614.1 459.0,615.6 463.0,614.9 464.9,613.7Z"/>
<path fill="#e9785d" fill-rule="evenodd" d="M620.4,-24.0 904.0,-24.0 904.0,198.0 888.0,198.9 872.1,206.1 856.8,207.4 846.1,212.4 832.2,214.2 825.8,217.4 816.2,224.9 812.2,226.9 808.2,226.9 800.2,224.1 796.2,224.6 792.6,227.4 791.8,229.4 792.7,237.3 792.2,240.0 790.2,241.9 786.3,242.2 779.9,239.3 777.8,237.3 774.3,231.6 772.3,231.1 764.3,235.3 760.3,235.3 742.3,229.0 730.4,220.5 720.4,219.1 706.4,215.4 702.4,213.3 700.4,211.2 696.4,204.7 692.5,201.6 686.5,200.3 674.5,199.9 668.5,198.2 660.5,193.9 650.5,185.6 634.6,180.5 626.6,176.2 614.6,164.8 609.7,153.5 604.1,143.6 602.1,133.6 596.8,121.6 596.4,111.7 595.3,105.7 590.7,98.7 588.7,93.8 585.7,81.7 584.1,69.8 585.0,65.8 586.5,63.8 597.2,57.8 599.4,55.8 600.3,53.8 600.4,41.8 601.5,35.8 604.6,27.5 610.0,19.9 612.0,15.9 612.0,5.9 616.6,-3.9ZM652.1,297.2 654.5,296.8 655.0,297.2 654.6,299.2 652.5,299.7 651.7,299.2ZM666.1,319.1 668.5,318.2 672.5,318.3 676.5,320.0 678.5,322.0 680.0,325.1 679.9,329.1 679.0,331.1 676.9,333.1 674.5,334.2 670.5,334.5 666.9,333.1 664.5,331.0 662.5,327.2 662.3,325.1 663.9,321.1ZM696.6,319.1 698.4,318.0 702.4,317.3 720.4,319.7 724.4,322.1 727.3,327.1 727.3,331.1 726.2,333.1 717.0,339.1 715.0,341.1 710.4,348.7 706.4,351.1 700.4,351.2 696.4,349.8 694.5,348.2 692.8,345.1 692.2,341.1 692.6,327.1 693.6,323.1ZM30.4,574.5 31.9,574.0 33.9,574.4 35.9,576.2 40.6,584.4 40.2,588.4 35.9,593.5 34.8,596.4 35.8,602.4 37.9,604.9 39.9,605.9 41.9,605.6 43.9,603.7 53.9,590.4 57.8,583.2 59.8,581.6 61.8,581.6 73.8,587.6 89.8,590.3 109.7,596.2 114.1,598.4 115.9,600.4 117.3,604.4 114.8,620.3 113.6,624.3 108.3,636.3 104.0,640.3 97.7,643.8 93.7,645.0 89.8,645.2 79.8,643.8 75.8,645.5 74.2,648.3 72.3,656.3 70.9,658.3 52.3,676.2 50.8,680.2 51.0,690.2 49.8,694.2 45.8,697.5 33.9,701.1 29.9,704.1 28.7,706.1 27.1,716.1 21.8,728.1 19.9,739.7 17.9,743.5 9.9,748.9 8.3,752.0 7.5,756.0 -2.6,756.0 -4.0,753.7 -14.0,749.8 -22.0,744.2 -24.0,743.4 -24.0,580.1 -16.0,578.7 -6.0,575.2 -0.1,575.7 5.3,578.5 9.3,582.4 9.4,584.4 7.9,587.4 7.9,589.4 9.9,591.4 11.9,591.3 13.9,590.4 17.3,584.4 21.9,581.8Z"/>
<path fill="#e0654f" fill-rule="evenodd" d="M657.4,-24.0 904.0,-24.0 904.0,187.9 894.0,187.5 890.0,188.2 884.0,190.8 875.9,195.4 870.1,197.0 852.1,194.3 848.3,195.4 844.1,198.4 840.1,199.3 832.2,195.9 830.2,195.6 828.2,196.6 824.0,203.4 822.0,205.4 817.8,207.4 810.2,208.9 796.2,208.6 778.3,209.4 768.3,205.7 760.3,205.4 752.3,200.5 746.3,198.9 742.3,199.5 732.4,205.2 726.4,205.5 720.4,204.0 717.2,201.4 714.5,191.4 712.6,189.5 708.4,188.1 698.4,187.6 692.5,185.5 688.8,181.5 684.5,174.0 680.5,170.8 678.5,170.8 670.5,174.3 666.5,174.7 656.5,171.3 646.6,171.0 642.6,170.3 635.0,165.5 631.6,161.5 631.0,159.5 632.1,153.5 631.3,149.6 624.0,143.6 621.2,139.6 617.0,121.6 617.9,117.6 621.1,113.6 624.6,112.0 634.6,110.5 638.3,107.7 643.1,97.7 643.9,91.7 642.6,88.5 640.6,86.4 634.6,82.9 630.6,79.3 626.6,78.0 618.6,78.5 615.7,77.7 610.4,73.7 609.3,71.8 609.1,69.8 610.8,65.8 616.4,59.8 618.4,55.8 615.6,41.8 616.1,37.8 618.4,35.8 620.6,35.5 628.6,36.6 630.6,35.9 632.6,33.9 633.2,29.9 629.0,21.9 628.2,17.9 629.5,11.9 631.9,7.9 636.6,3.9 642.6,1.4 648.6,0.6 658.5,1.4 661.5,-0.1 662.5,-1.7 662.5,-4.1 655.3,-12.0 655.2,-14.0ZM-24.0,586.4 -24.0,585.4 -22.0,585.4 -10.0,587.7 -8.0,588.8 -0.4,596.4 5.9,600.3 9.9,601.5 17.9,601.6 20.6,602.4 22.9,604.4 26.2,610.4 30.0,614.4 37.4,618.4 49.8,622.9 53.8,626.1 54.8,628.3 55.1,642.3 53.8,646.3 51.8,648.0 47.8,649.2 33.9,651.1 23.9,655.6 3.9,655.8 -0.1,657.6 -2.9,660.2 -4.5,664.2 -3.9,666.2 -2.0,667.8 1.9,669.1 21.9,672.1 25.9,673.7 30.8,678.2 31.6,680.2 31.7,684.2 28.9,690.2 23.9,693.9 17.9,695.5 5.9,694.9 1.9,696.0 -0.0,698.1 -3.4,706.1 -6.0,708.8 -8.0,709.8 -10.0,709.8 -12.0,708.9 -18.0,703.9 -24.0,702.8ZM65.8,594.4 81.8,594.5 87.8,595.6 96.8,600.4 100.6,604.4 101.6,610.4 100.4,616.4 97.8,620.3 87.8,631.2 83.8,631.9 81.8,630.9 75.8,623.5 67.8,619.9 63.8,617.2 58.6,610.4 56.7,604.4 57.8,600.4 61.8,596.3Z"/>
<path fill="#d44e41" fill-rule="evenodd" d="M667.9,-24.0 904.0,-24.0 904.0,179.9 892.0,177.6 888.0,178.9 880.1,183.2 876.1,183.8 868.1,183.6 862.1,186.1 858.1,186.7 842.1,184.9 830.4,179.5 826.2,178.8 822.2,179.5 814.2,184.2 810.2,185.4 800.2,183.3 798.6,185.5 799.0,187.5 800.2,189.0 804.4,191.4 806.2,193.4 806.7,195.4 806.2,197.4 802.2,198.8 790.2,198.4 786.3,197.5 779.4,191.4 774.3,189.7 770.3,189.7 758.3,192.0 750.3,191.3 744.4,189.5 738.4,186.5 730.4,184.8 728.4,184.0 725.7,181.5 724.7,179.5 724.5,175.5 727.8,167.5 728.0,163.5 726.1,157.5 722.4,153.7 716.4,153.0 704.4,157.6 700.4,157.9 698.4,157.3 696.4,156.0 694.5,153.5 692.2,145.6 690.5,142.5 680.5,135.9 672.5,128.9 668.5,128.5 666.5,129.8 660.5,136.4 656.5,138.0 652.5,138.3 648.7,137.6 646.6,136.4 640.6,129.6 638.6,128.5 630.6,126.8 629.4,125.6 629.0,123.6 629.9,121.6 632.9,119.6 638.6,117.8 641.5,115.6 642.7,113.6 646.0,103.7 651.8,95.7 651.4,91.7 645.9,79.7 644.4,71.8 643.0,69.8 634.6,64.1 632.7,59.8 633.7,51.8 641.6,33.9 642.0,29.9 640.1,17.9 642.6,12.5 646.6,9.0 650.5,7.9 658.5,8.2 662.5,7.6 666.5,5.1 671.3,-0.1 673.5,-4.1 673.6,-8.0 668.6,-20.0ZM888.0,150.7 886.0,153.5 886.3,155.5 888.0,158.1 890.0,159.4 892.0,159.5 893.5,157.5 893.2,153.5 892.0,151.4 890.0,150.5ZM694.4,167.5 696.4,166.8 698.4,167.6 700.2,169.5 701.4,173.5 700.4,175.9 698.4,176.6 696.4,176.0 694.5,174.1 693.4,171.5 693.4,169.5ZM-24.0,594.4 -24.0,592.4 -22.0,593.4 -17.6,598.4 -14.0,601.0 -10.0,602.8 1.9,606.0 9.9,610.1 11.9,611.8 13.4,614.4 14.2,618.4 13.2,622.3 8.3,628.3 7.7,630.3 7.9,632.3 9.9,634.9 13.9,636.4 19.9,635.1 23.9,632.4 27.9,628.3 31.9,626.6 35.9,627.9 38.1,630.3 38.9,634.3 37.8,638.3 33.9,641.0 19.9,646.2 5.9,646.6 -10.0,651.5 -24.0,651.6ZM-10.7,676.2 -4.5,676.2 1.9,678.2 5.4,680.2 6.4,682.2 5.0,684.2 -0.1,686.2 -6.0,687.6 -10.0,687.1 -13.4,684.2 -14.9,680.2 -14.2,678.2Z"/>
<path fill="#c73635" fill-rule="evenodd" d="M680.0,-24.0 904.0,-24.0 904.0,149.0 898.6,145.6 892.0,143.2 886.0,143.3 881.6,145.6 879.1,149.6 878.5,153.5 879.6,157.5 884.1,163.5 886.1,167.5 886.0,169.5 885.0,171.5 880.1,174.8 876.1,174.9 873.1,173.5 868.1,169.6 864.1,168.7 860.8,169.5 850.1,174.2 844.1,174.5 834.2,172.1 828.2,171.9 822.2,172.8 814.2,175.7 810.2,176.3 798.2,173.4 792.2,173.1 788.2,175.1 783.9,179.5 780.3,181.0 776.3,181.3 766.3,180.3 756.3,182.6 750.3,182.2 746.3,180.2 743.6,177.5 741.8,173.5 742.0,165.5 728.4,150.4 722.4,147.6 708.4,146.1 706.4,144.7 704.4,138.2 702.4,136.4 690.5,134.9 686.5,133.3 682.5,130.2 672.1,119.6 671.0,117.6 671.0,105.7 668.9,99.7 665.8,95.7 656.5,88.3 654.5,85.6 653.0,81.7 653.3,77.7 660.5,70.3 663.2,65.8 664.2,61.8 663.8,59.8 661.9,57.8 658.5,56.8 648.6,58.1 644.6,57.9 642.6,56.0 642.1,53.8 643.1,47.8 648.2,29.9 650.5,17.6 652.5,15.6 660.5,15.5 664.5,13.8 677.7,1.9 680.3,-2.1 680.8,-6.0 679.1,-16.0ZM-24.0,604.4 -24.0,602.8 -16.0,606.2 -10.5,610.4 -9.3,612.4 -9.3,614.4 -10.8,616.4 -24.0,622.6Z"/>
<path fill="#b8122a" fill-rule="evenodd" d="M686.2,-24.0 904.0,-24.0 904.0,138.5 898.0,138.5 872.1,135.2 866.1,135.6 858.1,140.5 847.3,145.6 822.2,163.5 812.2,168.5 806.2,169.6 800.2,168.3 792.2,164.0 788.2,162.9 784.3,163.7 778.3,166.4 776.3,166.3 772.3,163.8 762.8,155.5 756.3,146.5 748.3,146.9 740.4,143.1 730.4,143.0 720.4,141.4 716.4,139.4 711.2,131.6 708.4,128.8 704.4,127.2 694.5,126.7 691.1,125.6 690.2,123.6 691.4,119.6 691.5,115.6 685.0,101.7 674.5,91.4 672.2,89.7 663.2,85.7 661.2,83.7 660.4,81.7 661.7,77.7 672.8,61.8 673.5,57.8 672.5,51.8 670.5,49.3 668.5,48.7 654.5,49.4 652.0,47.8 651.2,43.8 653.0,35.8 654.5,33.5 658.5,30.7 666.5,28.2 670.5,28.2 672.5,29.2 676.5,34.2 678.5,35.0 680.5,34.9 686.5,31.9 689.8,27.9 690.5,23.9 689.5,21.9 686.5,20.3 678.5,18.8 676.5,15.9 677.8,11.9 682.5,8.2 686.5,7.6 692.5,11.3 694.5,11.4 697.0,9.9 699.5,5.9 699.5,1.9 698.4,-0.5 696.4,-2.0 690.5,-3.1 688.5,-5.0 686.5,-9.0 684.9,-16.0Z"/>
<use href="#bd" transform="scale(0.99977 1.00054)"/>
</g>
<rect x="0" y="0" width="879.8" height="734.9" fill="none" stroke="#000" stroke-width="3.9"/>
<path d="M0.0 734.9 V755.5 M146.6 734.9 V755.5 M293.3 734.9 V755.5 M439.9 734.9 V755.5 M586.5 734.9 V755.5 M733.2 734.9 V755.5 M879.8 734.9 V755.5 M0 0.0 H-20.6 M0 147.0 H-20.6 M0 294.0 H-20.6 M0 440.9 H-20.6 M0 587.9 H-20.6 M0 734.9 H-20.6" stroke="#000" stroke-width="3.9" fill="none"/>
<text class="k" x="0.0" y="791.5" text-anchor="middle">113°E</text>
<text class="k" x="146.6" y="791.5" text-anchor="middle">114°E</text>
<text class="k" x="293.3" y="791.5" text-anchor="middle">115°E</text>
<text class="k" x="439.9" y="791.5" text-anchor="middle">116°E</text>
<text class="k" x="586.5" y="791.5" text-anchor="middle">117°E</text>
<text class="k" x="733.2" y="791.5" text-anchor="middle">118°E</text>
<text class="k" x="879.8" y="791.5" text-anchor="middle">119°E</text>
<text class="k" x="-34.6" y="9.7" text-anchor="end">42°N</text>
<text class="k" x="-34.6" y="156.7" text-anchor="end">41°N</text>
<text class="k" x="-34.6" y="303.7" text-anchor="end">40°N</text>
<text class="k" x="-34.6" y="450.6" text-anchor="end">39°N</text>
<text class="k" x="-34.6" y="597.6" text-anchor="end">38°N</text>
<text class="k" x="-34.6" y="744.6" text-anchor="end">37°N</text>
</g>
<text class="t" x="1214.9" y="2203.9">(f) DA_2step_wv123</text>
<g transform="translate(282.3 965.4)">
<rect x="0.00" y="0" width="141.97" height="35" fill="#ead5c9"/>
<rect x="141.47" y="0" width="141.97" height="35" fill="#f1cdba"/>
<rect x="282.95" y="0" width="141.97" height="35" fill="#f5c2aa"/>
<rect x="424.42" y="0" width="141.97" height="35" fill="#f7b79b"/>
<rect x="565.90" y="0" width="141.97" height="35" fill="#f7a98b"/>
<rect x="707.38" y="0" width="141.97" height="35" fill="#f49a7b"/>
<rect x="848.85" y="0" width="141.97" height="35" fill="#f08a6c"/>
<rect x="990.32" y="0" width="141.97" height="35" fill="#e9785d"/>
<rect x="1131.80" y="0" width="141.97" height="35" fill="#e0654f"/>
<rect x="1273.27" y="0" width="141.97" height="35" fill="#d44e41"/>
<rect x="1414.75" y="0" width="141.97" height="35" fill="#c73635"/>
<rect x="1556.22" y="0" width="141.97" height="35" fill="#b8122a"/>
<path d="M141.47 0 V35 M282.95 0 V35 M424.42 0 V35 M565.90 0 V35 M707.38 0 V35 M848.85 0 V35 M990.32 0 V35 M1131.80 0 V35 M1273.27 0 V35 M1414.75 0 V35 M1556.22 0 V35" stroke="#2e1f1e" stroke-width="2.5" fill="none"/>
<rect x="0" y="0" width="1697.7" height="35" fill="none" stroke="#3f302e" stroke-width="2.4"/>
<text class="c" font-size="40.6" transform="translate(141.5 81.6) scale(0.92 1)">0</text>
<text class="c" font-size="40.6" transform="translate(282.9 81.6) scale(0.92 1)">0.03</text>
<text class="c" font-size="40.6" transform="translate(424.4 81.6) scale(0.92 1)">0.06</text>
<text class="c" font-size="40.6" transform="translate(565.9 81.6) scale(0.92 1)">0.09</text>
<text class="c" font-size="40.6" transform="translate(707.4 81.6) scale(0.92 1)">0.12</text>
<text class="c" font-size="40.6" transform="translate(848.8 81.6) scale(0.92 1)">0.15</text>
<text class="c" font-size="40.6" transform="translate(990.3 81.6) scale(0.92 1)">0.18</text>
<text class="c" font-size="40.6" transform="translate(1131.8 81.6) scale(0.92 1)">0.21</text>
<text class="c" font-size="40.6" transform="translate(1273.3 81.6) scale(0.92 1)">0.24</text>
<text class="c" font-size="40.6" transform="translate(1414.8 81.6) scale(0.92 1)">0.27</text>
<text class="c" font-size="40.6" transform="translate(1556.2 81.6) scale(0.92 1)">0.3</text>
</g>
<g transform="translate(273.6 2035.5)">
<rect x="0.00" y="0" width="141.97" height="34.9" fill="#ead5c9"/>
<rect x="141.47" y="0" width="141.97" height="34.9" fill="#f1cdba"/>
<rect x="282.95" y="0" width="141.97" height="34.9" fill="#f5c2aa"/>
<rect x="424.42" y="0" width="141.97" height="34.9" fill="#f7b79b"/>
<rect x="565.90" y="0" width="141.97" height="34.9" fill="#f7a98b"/>
<rect x="707.38" y="0" width="141.97" height="34.9" fill="#f49a7b"/>
<rect x="848.85" y="0" width="141.97" height="34.9" fill="#f08a6c"/>
<rect x="990.32" y="0" width="141.97" height="34.9" fill="#e9785d"/>
<rect x="1131.80" y="0" width="141.97" height="34.9" fill="#e0654f"/>
<rect x="1273.27" y="0" width="141.97" height="34.9" fill="#d44e41"/>
<rect x="1414.75" y="0" width="141.97" height="34.9" fill="#c73635"/>
<rect x="1556.22" y="0" width="141.97" height="34.9" fill="#b8122a"/>
<path d="M141.47 0 V34.9 M282.95 0 V34.9 M424.42 0 V34.9 M565.90 0 V34.9 M707.38 0 V34.9 M848.85 0 V34.9 M990.32 0 V34.9 M1131.80 0 V34.9 M1273.27 0 V34.9 M1414.75 0 V34.9 M1556.22 0 V34.9" stroke="#2e1f1e" stroke-width="2.5" fill="none"/>
<rect x="0" y="0" width="1697.7" height="34.9" fill="none" stroke="#3f302e" stroke-width="2.4"/>
<text class="c" font-size="40.6" transform="translate(141.5 81.5) scale(0.92 1)">0</text>
<text class="c" font-size="40.6" transform="translate(282.9 81.5) scale(0.92 1)">0.03</text>
<text class="c" font-size="40.6" transform="translate(424.4 81.5) scale(0.92 1)">0.06</text>
<text class="c" font-size="40.6" transform="translate(565.9 81.5) scale(0.92 1)">0.09</text>
<text class="c" font-size="40.6" transform="translate(707.4 81.5) scale(0.92 1)">0.12</text>
<text class="c" font-size="40.6" transform="translate(848.8 81.5) scale(0.92 1)">0.15</text>
<text class="c" font-size="40.6" transform="translate(990.3 81.5) scale(0.92 1)">0.18</text>
<text class="c" font-size="40.6" transform="translate(1131.8 81.5) scale(0.92 1)">0.21</text>
<text class="c" font-size="40.6" transform="translate(1273.3 81.5) scale(0.92 1)">0.24</text>
<text class="c" font-size="40.6" transform="translate(1414.8 81.5) scale(0.92 1)">0.27</text>
<text class="c" font-size="40.6" transform="translate(1556.2 81.5) scale(0.92 1)">0.3</text>
</g>
<g transform="translate(264.0 3097.3)">
<rect x="0.00" y="0" width="142.17" height="36.9" fill="#ead5c9"/>
<rect x="141.67" y="0" width="142.17" height="36.9" fill="#f1cdba"/>
<rect x="283.33" y="0" width="142.17" height="36.9" fill="#f5c2aa"/>
<rect x="425.00" y="0" width="142.17" height="36.9" fill="#f7b79b"/>
<rect x="566.67" y="0" width="142.17" height="36.9" fill="#f7a98b"/>
<rect x="708.33" y="0" width="142.17" height="36.9" fill="#f49a7b"/>
<rect x="850.00" y="0" width="142.17" height="36.9" fill="#f08a6c"/>
<rect x="991.67" y="0" width="142.17" height="36.9" fill="#e9785d"/>
<rect x="1133.33" y="0" width="142.17" height="36.9" fill="#e0654f"/>
<rect x="1275.00" y="0" width="142.17" height="36.9" fill="#d44e41"/>
<rect x="1416.67" y="0" width="142.17" height="36.9" fill="#c73635"/>
<rect x="1558.33" y="0" width="142.17" height="36.9" fill="#b8122a"/>
<path d="M141.67 0 V36.9 M283.33 0 V36.9 M425.00 0 V36.9 M566.67 0 V36.9 M708.33 0 V36.9 M850.00 0 V36.9 M991.67 0 V36.9 M1133.33 0 V36.9 M1275.00 0 V36.9 M1416.67 0 V36.9 M1558.33 0 V36.9" stroke="#2e1f1e" stroke-width="2.6" fill="none"/>
<rect x="0" y="0" width="1700.0" height="36.9" fill="none" stroke="#3f302e" stroke-width="2.4"/>
<text class="c" font-size="41.6" transform="translate(141.7 86.7) scale(0.9 1)">0</text>
<text class="c" font-size="41.6" transform="translate(283.3 86.7) scale(0.9 1)">0.01</text>
<text class="c" font-size="41.6" transform="translate(425.0 86.7) scale(0.9 1)">0.02</text>
<text class="c" font-size="41.6" transform="translate(566.7 86.7) scale(0.9 1)">0.03</text>
<text class="c" font-size="41.6" transform="translate(708.3 86.7) scale(0.9 1)">0.04</text>
<text class="c" font-size="41.6" transform="translate(850.0 86.7) scale(0.9 1)">0.05</text>
<text class="c" font-size="41.6" transform="translate(991.7 86.7) scale(0.9 1)">0.06</text>
<text class="c" font-size="41.6" transform="translate(1133.3 86.7) scale(0.9 1)">0.07</text>
<text class="c" font-size="41.6" transform="translate(1275.0 86.7) scale(0.9 1)">0.08</text>
<text class="c" font-size="41.6" transform="translate(1416.7 86.7) scale(0.9 1)">0.09</text>
<text class="c" font-size="41.6" transform="translate(1558.3 86.7) scale(0.9 1)">0.1</text>
</g>
</svg></body></html>
